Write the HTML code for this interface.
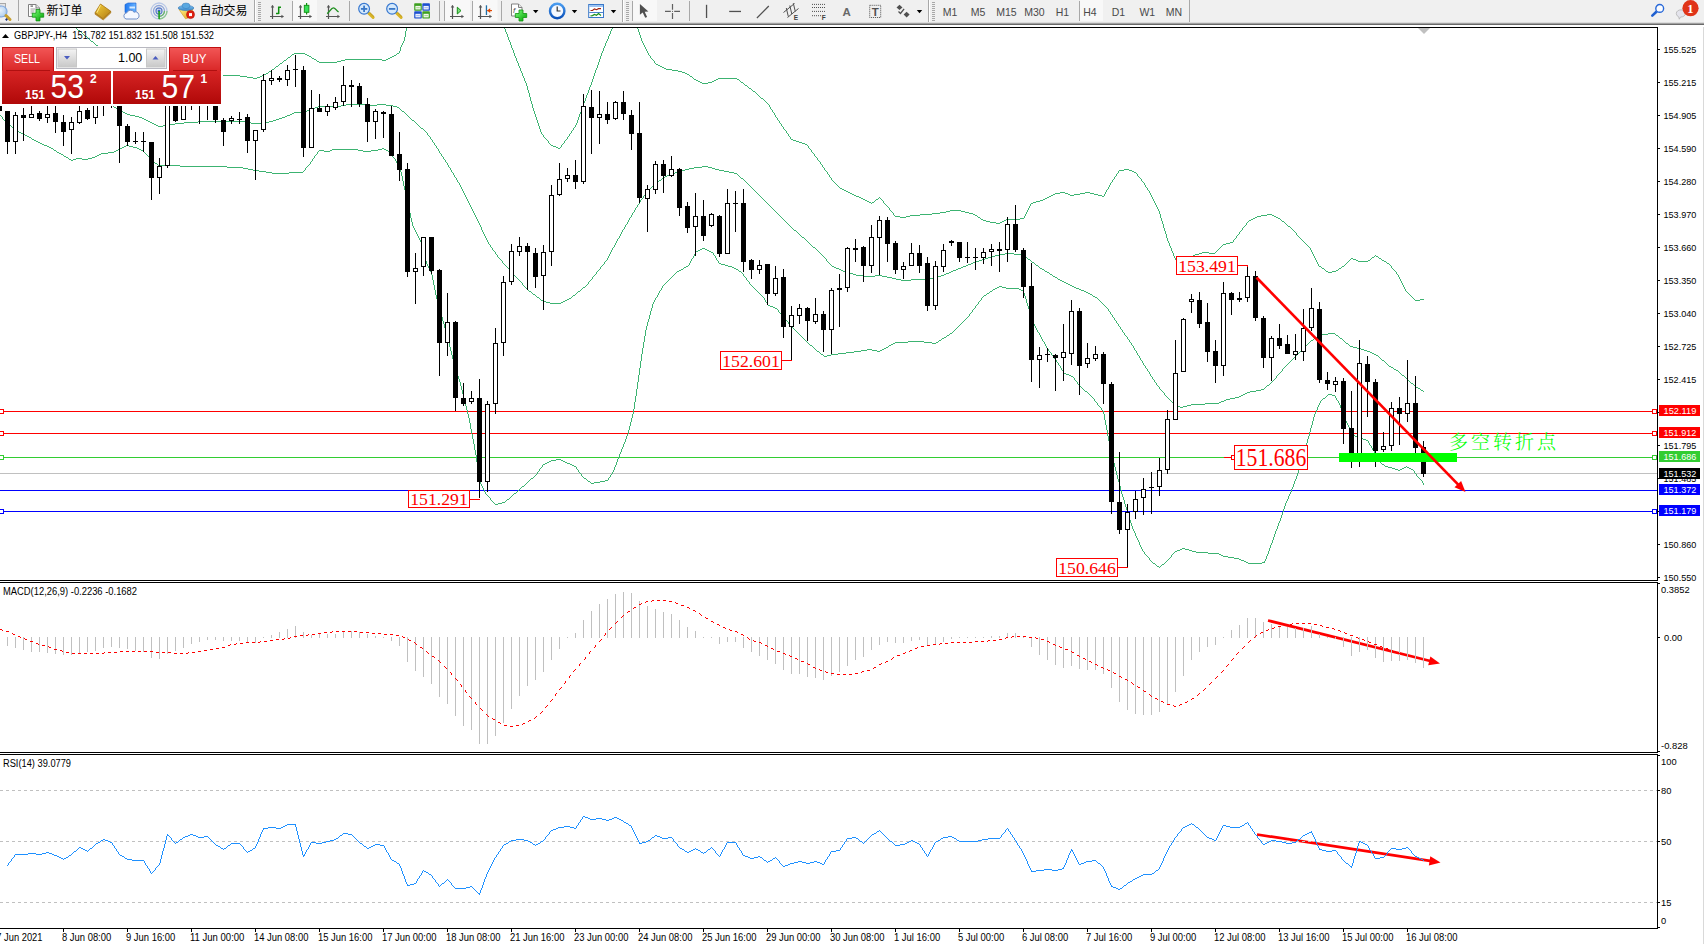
<!DOCTYPE html>
<html><head><meta charset="utf-8"><title>GBPJPY H4</title>
<style>
html,body{margin:0;padding:0;background:#fff}
body{width:1704px;height:944px;overflow:hidden;position:relative}
svg{position:absolute;left:0;top:0;display:block}
svg text{font-family:"Liberation Sans","Noto Sans CJK SC",sans-serif}
</style></head><body>
<svg width="1704" height="944" viewBox="0 0 1704 944">
<rect x="0" y="0" width="1704" height="944" fill="#fff"/>
<g shape-rendering="crispEdges">
<clipPath id="cm"><rect x="0" y="28" width="1657" height="552"/></clipPath>
<g clip-path="url(#cm)">
<rect x="0" y="411" width="1657" height="1" fill="#ff0000"/>
<rect x="0" y="433" width="1657" height="1" fill="#ff0000"/>
<rect x="0" y="457" width="1657" height="1" fill="#32cd32"/>
<rect x="0" y="473" width="1657" height="1" fill="#c0c0c0"/>
<rect x="0" y="490" width="1657" height="1" fill="#0000ff"/>
<rect x="0" y="511" width="1657" height="1" fill="#0000ff"/>
<path d="M85 36.5h2M181 75.5h8M218 75.5h22M262 75.5h2M146 68.5h3M189 76.5h8M206 76.5h12M240 76.5h7M260 76.5h2M118 59.5h2M314 59.5h2M345 59.5h37M386 59.5h2M165 73.5h8M266 73.5h2M120 60.5h2M284 60.5h2M341 60.5h4M382 60.5h4M139 66.5h3M276 66.5h2M253 78.5h4M122 61.5h4M317 61.5h2M337 61.5h4M115 57.5h2M288 57.5h2M390 57.5h2M126 62.5h3M319 62.5h18M152 70.5h4M197 77.5h9M247 77.5h6M257 77.5h3M156 71.5h3M269 71.5h2M104 50.5h2M173 74.5h8M264 74.5h2M113 56.5h2M309 56.5h2M392 56.5h2M149 69.5h3M272 69.5h2M312 58.5h2M388 58.5h2M136 65.5h3M159 72.5h6M78 30.5h2M91 41.5h2M110 54.5h2M292 54.5h2M305 54.5h2M294 53.5h11M397 53.5h2M307 55.5h2M394 55.5h2M107 52.5h2M129 63.5h3M280 63.5h2M132 64.5h4M99 47.5h2M142 67.5h4M96 45.5h2M101 48.5h2M94.5 43v1M406.5 28v3M405.5 31v6M402.5 43v2M274.5 68v1M98.5 46v1M279.5 64v1M278.5 65v1M283.5 61v1M84.5 35v1M396.5 54v1M404.5 37v4M403.5 41v2M87.5 37v1M95.5 44v1M77.5 29v1M80.5 31v1M282.5 62v1M268.5 72v1M400.5 47v4M287.5 58v1M399.5 51v2M88.5 38v1M81.5 32v1M286.5 59v1M316.5 60v1M401.5 45v2M290.5 56v1M89.5 39v1M291.5 55v1M117.5 58v1M93.5 42v1M271.5 70v1M311.5 57v1M82.5 33v1M90.5 40v1M112.5 55v1M103.5 49v1M106.5 51v1M275.5 67v1M109.5 53v1M83.5 34v1M76.5 28v1" fill="none" stroke="#3cb371" stroke-width="1"/>
<path d="M551 145.5h2M553 146.5h3M556 147.5h2M558 148.5h2M522.5 73v3M546.5 139v1M601.5 53v3M513.5 50v3M584.5 101v2M573.5 128v2M508.5 37v3M605.5 43v3M536.5 117v3M505.5 29v3M519.5 66v2M591.5 82v3M611.5 29v2M592.5 79v3M586.5 95v3M604.5 46v2M610.5 31v3M539.5 126v3M547.5 140v1M595.5 70v3M578.5 117v3M525.5 81v2M596.5 68v2M509.5 40v2M537.5 120v3M543.5 135v2M511.5 45v3M517.5 61v2M582.5 106v3M526.5 83v3M602.5 51v2M530.5 97v4M598.5 62v3M609.5 34v2M532.5 104v4M576.5 123v2M590.5 85v2M608.5 36v3M518.5 63v3M523.5 76v2M529.5 93v4M594.5 73v3M520.5 68v3M577.5 120v3M510.5 42v3M515.5 56v2M538.5 123v3M566.5 139v1M564.5 141v2M506.5 32v2M527.5 86v4M524.5 78v3M607.5 39v2M588.5 90v3M606.5 41v2M531.5 101v3M583.5 103v3M589.5 87v3M560.5 147v1M562.5 144v1M563.5 143v1M565.5 140v1M572.5 130v1M574.5 127v1M580.5 112v2M575.5 125v2M541.5 132v2M561.5 145v2M516.5 58v3M534.5 111v3M571.5 131v2M600.5 56v3M587.5 93v2M514.5 53v3M542.5 134v1M581.5 109v3M567.5 137v2M569.5 134v2M585.5 98v3M599.5 59v3M528.5 90v3M512.5 48v2M535.5 114v3M540.5 129v3M548.5 141v2M593.5 76v3M603.5 48v3M533.5 108v3M507.5 34v3M597.5 65v3M579.5 114v3M612.5 28v1M549.5 143v1M521.5 71v2M550.5 144v1M544.5 137v1M568.5 136v1M570.5 133v1M504.5 28v1M545.5 138v1" fill="none" stroke="#3cb371" stroke-width="1"/>
<path d="M895 216.5h5M906 216.5h4M1257 216.5h4M1274 216.5h2M852 194.5h2M1053 194.5h2M1068 194.5h2M1074 194.5h6M1094 194.5h4M848 192.5h2M1060 192.5h5M1085 192.5h5M856 196.5h3M1049 196.5h2M1102 196.5h2M981 219.5h2M1006 219.5h14M1251 219.5h2M1119 170.5h5M1129 170.5h3M932 213.5h8M969 213.5h4M1199 253.5h3M1209 253.5h6M749 88.5h2M983 220.5h3M1004 220.5h2M1249 220.5h2M1134 172.5h2M700 82.5h2M708 82.5h4M741 82.5h2M1288 226.5h2M718 78.5h19M850 193.5h2M1055 193.5h5M1065 193.5h3M1080 193.5h5M1090 193.5h4M986 221.5h4M1002 221.5h2M1282 221.5h2M1124 169.5h5M946 211.5h4M961 211.5h4M1358 261.5h10M1384 261.5h2M1387 263.5h2M861 198.5h2M1045 198.5h2M844 190.5h2M672 70.5h6M990 222.5h6M1000 222.5h2M910 215.5h10M975 215.5h2M1261 215.5h6M1272 215.5h2M696 80.5h2M714 80.5h2M846 191.5h2M863 199.5h2M876 199.5h2M1043 199.5h2M859 197.5h2M1047 197.5h2M900 217.5h6M978 217.5h2M1255 217.5h2M1276 217.5h2M1336 270.5h2M920 214.5h12M973 214.5h2M1267 214.5h5M950 210.5h11M840 188.5h2M1195 254.5h4M1356 260.5h2M1368 260.5h2M1382 260.5h2M793 140.5h3M702 83.5h6M842 189.5h2M1226 243.5h4M1178 262.5h2M1328 272.5h4M1322 268.5h2M1339 268.5h2M940 212.5h6M965 212.5h4M869 202.5h2M872 202.5h2M1033 202.5h3M796 141.5h3M854 195.5h2M1051 195.5h2M1070 195.5h4M1098 195.5h4M867 201.5h2M1036 201.5h4M996 223.5h4M1351 258.5h2M1379 258.5h2M865 200.5h2M1040 200.5h3M1223 244.5h3M1376 256.5h2M799 142.5h3M1132 171.5h2M1372 257.5h2M802 143.5h3M1230 242.5h3M1202 252.5h7M690 76.5h2M1353 259.5h3M664 68.5h2M1193 255.5h2M658 65.5h2M678 71.5h4M1420 299.5h4M660 66.5h2M1326 271.5h2M1332 271.5h4M662 67.5h2M694 79.5h2M716 79.5h2M737 79.5h2M656 64.5h2M1319 266.5h2M1342 266.5h2M682 72.5h3M1415 300.5h5M666 69.5h6M791 139.5h2M687 74.5h2M761 98.5h2M1020 218.5h4M1253 218.5h2M1278 218.5h2M805 144.5h2M745 85.5h2M1031 203.5h2M698 81.5h2M712 81.5h2M753 91.5h2M685 73.5h2M1108.5 187v2M887.5 206v1M1170.5 246v2M1296.5 233v2M1163.5 224v4M1171.5 248v3M1156.5 205v2M1112.5 180v2M1404.5 287v2M790.5 137v2M1104.5 194v2M1240.5 231v1M1405.5 289v2M1243.5 227v1M786.5 131v2M760.5 97v1M1153.5 199v2M808.5 146v2M879.5 197v1M1150.5 193v2M645.5 47v2M1412.5 297v1M648.5 53v2M880.5 198v1M1394.5 270v1M812.5 152v1M1321.5 267v1M823.5 167v1M640.5 35v3M1311.5 250v2M1386.5 262v1M1160.5 214v4M827.5 172v2M1246.5 223v2M1115.5 176v1M1393.5 269v1M1401.5 281v2M1145.5 185v2M1303.5 241v1M1149.5 191v2M1166.5 234v4M644.5 45v2M1192.5 256v1M1371.5 258v1M822.5 165v2M1310.5 248v2M1239.5 232v2M1169.5 243v3M1118.5 171v2M1295.5 232v1M826.5 171v1M1378.5 257v1M767.5 103v1M775.5 115v2M1284.5 222v1M1162.5 221v3M789.5 136v1M1348.5 261v1M1285.5 223v1M837.5 185v1M1152.5 197v2M1234.5 239v1M647.5 51v2M1400.5 279v2M1408.5 293v1M1184.5 265v1M1318.5 264v2M1148.5 190v1M651.5 58v1M811.5 150v2M692.5 77v1M815.5 156v1M1159.5 211v3M1375.5 255v1M1242.5 228v2M889.5 208v2M1111.5 182v1M1180.5 263v1M639.5 32v3M829.5 175v2M770.5 107v2M830.5 177v1M771.5 109v1M755.5 92v1M774.5 113v2M650.5 56v2M874.5 201v1M1137.5 174v2M1218.5 249v1M756.5 93v1M1407.5 292v1M1107.5 189v1M788.5 134v2M878.5 198v1M1151.5 195v2M646.5 49v2M1396.5 272v2M1144.5 183v2M1317.5 262v2M1165.5 231v3M1173.5 253v3M814.5 154v2M1114.5 177v2M1414.5 299v1M1280.5 219v1M882.5 200v1M1245.5 225v1M888.5 207v1M828.5 174v1M1233.5 240v2M1298.5 236v1M649.5 55v1M1299.5 237v1M1403.5 285v2M1175.5 258v2M1147.5 188v2M1399.5 277v2M1176.5 260v1M643.5 43v2M1305.5 243v1M1222.5 245v1M881.5 199v1M1191.5 257v1M1306.5 244v1M1290.5 227v1M1248.5 221v1M751.5 89v1M1350.5 259v1M1028.5 208v2M1291.5 228v1M752.5 90v1M1117.5 173v1M832.5 180v1M1158.5 209v2M1168.5 241v2M769.5 105v2M777.5 118v2M1136.5 173v1M1402.5 283v2M1287.5 225v1M1395.5 271v1M813.5 153v1M642.5 41v2M653.5 60v1M817.5 158v2M1236.5 236v2M831.5 178v2M772.5 110v2M638.5 29v3M891.5 211v1M1186.5 263v1M1217.5 250v1M773.5 112v1M1167.5 238v3M776.5 117v1M1183.5 266v1M757.5 94v1M1286.5 224v1M838.5 186v1M1027.5 210v2M1398.5 275v2M747.5 86v1M1161.5 218v3M758.5 95v1M1409.5 294v1M1174.5 256v2M839.5 187v1M883.5 201v2M693.5 78v1M641.5 38v3M1164.5 228v3M884.5 203v1M1220.5 247v1M1189.5 259v1M890.5 210v1M1181.5 264v1M768.5 104v1M779.5 121v2M1182.5 265v1M780.5 123v1M1341.5 267v1M1300.5 238v1M783.5 127v2M1345.5 264v1M652.5 59v1M1139.5 177v1M1116.5 174v2M1397.5 274v1M1315.5 258v2M816.5 157v1M1244.5 226v1M1281.5 220v1M820.5 162v2M1308.5 246v1M1157.5 207v2M1293.5 230v1M1138.5 176v1M637.5 28v1M689.5 75v1M1215.5 252v1M1247.5 222v1M1177.5 261v1M1188.5 260v2M1314.5 256v2M1292.5 229v1M1307.5 245v1M1026.5 212v2M778.5 120v1M893.5 213v2M764.5 100v1M833.5 181v1M782.5 126v1M894.5 215v1M980.5 218v1M834.5 182v1M1110.5 183v2M654.5 61v2M1141.5 179v2M1390.5 265v1M655.5 63v1M871.5 203v1M1235.5 238v1M1238.5 234v1M1030.5 204v2M763.5 99v1M1219.5 248v1M1106.5 190v2M1185.5 264v1M886.5 205v1M1347.5 262v1M819.5 161v1M781.5 124v2M892.5 212v1M1389.5 264v1M1325.5 270v1M1155.5 203v2M1316.5 260v2M1241.5 230v1M748.5 87v1M875.5 200v1M1313.5 254v2M807.5 145v1M1025.5 214v2M818.5 160v1M1172.5 251v2M1411.5 296v1M885.5 204v1M977.5 216v1M1324.5 269v1M744.5 84v1M1344.5 265v1M1370.5 259v1M1381.5 259v1M1113.5 179v1M759.5 96v1M1410.5 295v1M1392.5 268v1M1302.5 240v1M1374.5 256v1M1312.5 252v2M1109.5 185v2M821.5 164v1M1309.5 247v1M743.5 83v1M1154.5 201v2M1301.5 239v1M1029.5 206v2M784.5 129v1M1105.5 192v2M785.5 130v1M1140.5 178v1M1187.5 262v1M836.5 184v1M1338.5 269v1M740.5 81v1M824.5 168v2M765.5 101v1M1294.5 231v1M825.5 170v1M766.5 102v1M1221.5 246v1M1024.5 216v2M1391.5 266v2M1237.5 235v1M1406.5 291v1M1349.5 260v1M809.5 148v1M739.5 80v1M1143.5 182v1M1346.5 263v1M810.5 149v1M1413.5 298v1M835.5 183v1M1297.5 235v1M1190.5 258v1M787.5 133v1M1142.5 181v1M1146.5 187v1M1216.5 251v1M1304.5 242v1" fill="none" stroke="#3cb371" stroke-width="1"/>
<path d="M841 270.5h2M953 270.5h3M130 115.5h5M287 115.5h3M971 263.5h2M123 112.5h2M294 112.5h11M682 170.5h3M719 170.5h5M702 166.5h6M667 175.5h3M1072 286.5h2M988 257.5h3M1025 257.5h2M1350 346.5h3M1372 353.5h2M1174 404.5h2M1191 404.5h14M103 98.5h2M1000 254.5h5M1014 254.5h7M125 113.5h2M292 113.5h2M16 74.5h10M152 123.5h2M175 123.5h9M251 123.5h12M529 291.5h2M578 291.5h2M1084 291.5h2M1178 406.5h2M1183 406.5h4M156 125.5h2M163 125.5h6M1086 292.5h2M846 272.5h3M949 272.5h2M1047 272.5h2M1226 399.5h4M856 275.5h8M875 275.5h7M941 275.5h3M849 273.5h4M946 273.5h3M150 122.5h2M184 122.5h14M246 122.5h5M263 122.5h6M1256 390.5h5M1421 390.5h2M887 277.5h5M934 277.5h4M1055 277.5h2M119 110.5h2M307 110.5h2M1364 350.5h3M813 247.5h2M1205 403.5h14M583 287.5h2M1074 287.5h2M1066 283.5h2M896 279.5h5M911 279.5h14M1058 279.5h2M802 237.5h2M694 167.5h8M708 167.5h4M98 94.5h2M346 104.5h23M377 104.5h9M968 264.5h3M1396 370.5h2M1076 288.5h3M966 265.5h2M1036 265.5h2M543 301.5h3M563 301.5h2M139 117.5h3M282 117.5h3M537 297.5h2M1095 297.5h2M1221 401.5h3M673 173.5h2M734 173.5h3M1416 387.5h2M1093 296.5h2M1374 354.5h2M653 185.5h2M142 118.5h2M279 118.5h3M1005 253.5h9M836 268.5h3M958 268.5h3M1040 268.5h2M146 120.5h2M273 120.5h3M412 120.5h2M864 276.5h11M882 276.5h5M938 276.5h3M1053 276.5h2M1267 385.5h2M991 256.5h4M1023 256.5h2M1235 397.5h4M982 259.5h3M1028 259.5h2M94 91.5h2M1224 400.5h2M901 280.5h10M1060 280.5h2M1088 293.5h2M853 274.5h3M944 274.5h2M1050 274.5h2M533 294.5h2M1090 294.5h2M1411 383.5h2M892 278.5h4M925 278.5h9M1219 402.5h2M675 172.5h3M729 172.5h5M36 76.5h8M839 269.5h2M956 269.5h2M1042 269.5h2M148 121.5h2M198 121.5h48M269 121.5h4M832 266.5h2M963 266.5h3M114 107.5h2M315 107.5h3M397 107.5h2M689 168.5h5M712 168.5h3M976 261.5h3M1081 290.5h3M567 299.5h2M1245 393.5h2M0 72.5h6M678 171.5h4M724 171.5h5M1243 394.5h2M550 303.5h11M541 300.5h2M565 300.5h2M158 126.5h5M6 73.5h10M973 262.5h3M1032 262.5h2M1353 347.5h4M318 106.5h23M393 106.5h4M135 116.5h4M285 116.5h2M58 79.5h7M1176 405.5h2M1187 405.5h4M1318 335.5h2M1336 335.5h2M1230 398.5h5M87 86.5h2M26 75.5h10M995 255.5h5M1021 255.5h2M79 82.5h4M65 80.5h7M843 271.5h3M951 271.5h2M1045 271.5h2M127 114.5h3M290 114.5h2M670 174.5h3M83 83.5h2M659 180.5h2M1370 352.5h2M1389 366.5h2M116 108.5h2M311 108.5h4M51 78.5h7M1361 349.5h3M1314 338.5h2M1340 338.5h2M109 103.5h2M665 176.5h2M1320 334.5h8M546 302.5h4M561 302.5h2M663 177.5h2M1376 355.5h2M1382 360.5h2M1311 340.5h2M794 230.5h2M1357 348.5h4M985 258.5h3M979 260.5h3M1079 289.5h2M569 298.5h2M341 105.5h5M369 105.5h8M386 105.5h7M685 169.5h4M715 169.5h4M1062 281.5h2M1418 388.5h2M1250 391.5h6M1261 389.5h3M1180 407.5h3M1328 333.5h7M90 88.5h2M72 81.5h7M121 111.5h2M305 111.5h2M402 111.5h2M834 267.5h2M961 267.5h2M1346 343.5h2M154 124.5h2M169 124.5h6M309 109.5h2M1239 396.5h2M1402 375.5h2M44 77.5h7M1070 285.5h2M1064 282.5h2M741 178.5h2M1391 367.5h2M573 295.5h2M1367 351.5h3M144 119.5h2M276 119.5h3M1241 395.5h2M1247 392.5h3M1068 284.5h2M1394 369.5h2M421 128.5h2M1044.5 270v1M612.5 248v2M461.5 187v2M581.5 289v1M824.5 257v1M604.5 262v2M451.5 170v2M414.5 121v1M1112.5 315v2M1281.5 371v1M454.5 175v2M628.5 220v2M585.5 286v1M1399.5 372v1M825.5 258v1M769.5 205v1M447.5 163v2M620.5 234v2M1305.5 346v1M1129.5 340v2M1137.5 353v2M1145.5 366v2M476.5 217v2M1380.5 358v1M1276.5 376v2M1296.5 355v1M85.5 84v1M743.5 179v1M1162.5 391v1M410.5 118v1M469.5 203v2M624.5 227v2M776.5 212v1M490.5 245v2M1163.5 392v1M531.5 292v1M616.5 241v2M1266.5 386v1M596.5 272v2M411.5 119v1M806.5 240v1M501.5 260v1M1293.5 358v1M483.5 232v2M1169.5 399v1M1398.5 371v1M494.5 251v1M1284.5 367v1M750.5 186v1M428.5 135v1M1111.5 314v1M1140.5 358v2M644.5 195v1M588.5 282v2M1143.5 363v2M429.5 136v1M783.5 219v1M450.5 168v2M639.5 202v2M1115.5 320v1M615.5 243v2M1136.5 351v2M1144.5 365v1M1152.5 377v2M784.5 220v1M527.5 289v1M1133.5 346v2M1316.5 337v1M472.5 209v2M757.5 193v1M475.5 215v2M652.5 186v1M512.5 273v1M1097.5 298v1M619.5 236v2M1273.5 380v1M635.5 208v2M611.5 250v2M486.5 238v2M647.5 192v1M1342.5 339v1M791.5 227v1M627.5 222v2M1092.5 295v1M399.5 108v1M1300.5 351v1M519.5 280v1M1104.5 305v1M738.5 175v1M432.5 140v2M765.5 201v1M1110.5 312v2M504.5 264v1M1118.5 324v2M631.5 215v2M1147.5 369v2M607.5 258v2M739.5 176v1M1264.5 388v1M436.5 146v2M526.5 288v1M1170.5 400v1M505.5 265v1M1132.5 345v1M801.5 236v1M1151.5 376v1M1288.5 363v1M623.5 229v1M790.5 226v1M471.5 207v2M1303.5 348v1M511.5 271v2M1405.5 377v1M572.5 296v1M485.5 236v2M493.5 250v1M482.5 230v2M587.5 284v1M576.5 293v1M468.5 201v2M1420.5 389v1M518.5 279v1M1103.5 304v1M497.5 255v2M820.5 253v1M764.5 200v1M1150.5 374v2M1291.5 360v1M431.5 139v1M826.5 259v2M1114.5 318v2M1117.5 323v1M1146.5 368v1M1154.5 380v2M416.5 123v1M827.5 261v1M595.5 274v1M435.5 145v1M1139.5 356v2M634.5 210v2M417.5 124v1M406.5 114v1M1310.5 341v1M590.5 280v1M638.5 204v1M492.5 248v2M1165.5 395v1M532.5 293v1M1386.5 363v1M481.5 227v3M1280.5 372v1M819.5 252v1M1283.5 368v1M1307.5 344v1M808.5 242v1M430.5 137v2M1120.5 327v2M1298.5 353v1M1400.5 373v1M598.5 270v1M658.5 181v1M1275.5 378v1M439.5 151v2M1172.5 402v1M1121.5 329v1M1401.5 374v1M771.5 207v1M1142.5 361v2M404.5 112v1M1027.5 258v1M1164.5 393v2M405.5 113v1M1295.5 356v1M610.5 252v2M745.5 181v1M1286.5 365v1M495.5 252v2M1099.5 300v1M646.5 193v1M778.5 214v1M467.5 199v2M496.5 254v1M614.5 245v2M1171.5 401v1M606.5 260v1M423.5 129v1M641.5 199v1M101.5 96v1M796.5 231v1M434.5 143v2M630.5 217v1M1116.5 321v2M522.5 283v2M662.5 178v1M1149.5 372v2M1348.5 344v1M797.5 232v1M601.5 266v1M438.5 149v2M1278.5 374v1M105.5 99v1M506.5 266v1M1381.5 359v1M1124.5 333v2M1153.5 379v1M86.5 85v1M528.5 290v1M637.5 205v2M1302.5 349v1M593.5 276v1M582.5 288v1M626.5 224v1M649.5 189v1M470.5 205v2M513.5 274v1M1098.5 299v1M777.5 213v1M815.5 248v1M514.5 275v1M484.5 234v2M466.5 197v2M751.5 187v1M400.5 109v1M1290.5 361v1M740.5 177v1M520.5 281v1M752.5 188v1M499.5 258v1M401.5 110v1M433.5 142v1M441.5 154v2M521.5 282v1M785.5 221v1M1148.5 371v1M1156.5 383v2M828.5 262v1M758.5 194v1M656.5 183v1M1157.5 385v1M829.5 263v1M1038.5 266v1M1309.5 342v1M759.5 195v1M419.5 126v1M1406.5 378v1M97.5 93v1M1343.5 340v1M792.5 228v1M498.5 257v1M100.5 95v1M1270.5 383v1M111.5 104v1M1407.5 379v1M1344.5 341v1M1105.5 306v1M1167.5 397v1M463.5 191v2M766.5 202v1M1388.5 365v1M112.5 105v1M1297.5 354v1M609.5 254v2M1119.5 326v1M821.5 254v1M1122.5 330v2M633.5 212v1M437.5 148v1M480.5 225v2M440.5 153v1M448.5 165v2M592.5 277v2M648.5 190v2M1123.5 332v1M477.5 219v2M1155.5 382v1M1313.5 339v1M1282.5 369v2M640.5 200v2M1166.5 396v1M407.5 115v1M465.5 195v2M580.5 290v1M600.5 267v2M603.5 264v1M1387.5 364v1M1304.5 347v1M462.5 189v2M809.5 243v1M523.5 285v1M1108.5 309v2M1338.5 336v1M444.5 159v1M810.5 244v1M106.5 100v1M524.5 286v1M1339.5 337v1M418.5 125v1M772.5 208v1M1285.5 366v1M1413.5 384v1M799.5 234v1M1159.5 387v2M96.5 92v1M107.5 101v1M773.5 209v1M746.5 182v1M747.5 183v1M779.5 215v1M516.5 277v1M780.5 216v1M1277.5 375v1M1052.5 275v1M753.5 189v1M479.5 223v2M1173.5 403v1M651.5 187v1M443.5 157v2M1125.5 335v1M636.5 207v1M754.5 190v1M786.5 222v1M92.5 89v1M1349.5 345v1M798.5 233v1M1272.5 381v1M1126.5 336v1M1292.5 359v1M787.5 223v1M643.5 196v2M1158.5 386v1M1265.5 387v1M1100.5 301v1M515.5 276v1M761.5 197v1M464.5 193v2M424.5 130v1M622.5 230v2M102.5 97v1M1409.5 381v1M425.5 131v1M457.5 180v2M655.5 184v1M478.5 221v2M507.5 267v1M442.5 156v1M571.5 297v1M508.5 268v1M618.5 238v1M575.5 294v1M1039.5 267v1M816.5 249v1M760.5 196v1M1408.5 380v1M831.5 265v1M599.5 269v1M793.5 229v1M1287.5 364v1M1345.5 342v1M1106.5 307v1M805.5 239v1M591.5 279v1M500.5 259v1M594.5 275v1M113.5 106v1M767.5 203v1M445.5 160v2M453.5 173v2M1107.5 308v1M768.5 204v1M446.5 162v1M586.5 285v1M449.5 167v1M830.5 264v1M1423.5 391v1M1379.5 357v1M812.5 246v1M1299.5 352v1M1393.5 368v1M420.5 127v1M774.5 210v1M629.5 218v2M1279.5 373v1M540.5 299v1M804.5 238v1M775.5 211v1M1168.5 398v1M409.5 117v1M749.5 185v1M427.5 133v2M822.5 255v1M625.5 225v2M456.5 178v2M1034.5 263v1M460.5 185v2M811.5 245v1M823.5 256v1M782.5 218v1M452.5 172v1M1035.5 264v1M1127.5 337v2M1378.5 356v1M1271.5 382v1M642.5 198v1M1128.5 339v1M589.5 281v1M525.5 287v1M474.5 213v2M1317.5 336v1M621.5 232v2M1306.5 345v1M1160.5 389v1M800.5 235v1M539.5 298v1M613.5 247v1M408.5 116v1M108.5 102v1M602.5 265v1M1161.5 390v1M488.5 242v2M657.5 182v1M1404.5 376v1M489.5 244v1M661.5 179v1M748.5 184v1M650.5 188v1M617.5 239v2M597.5 271v1M502.5 261v2M1274.5 379v1M1294.5 357v1M737.5 174v1M577.5 292v1M781.5 217v1M1109.5 311v1M503.5 263v1M93.5 90v1M459.5 183v2M645.5 194v1M1131.5 343v2M536.5 296v1M1414.5 385v1M1113.5 317v1M1134.5 348v2M755.5 191v1M1415.5 386v1M605.5 261v1M1135.5 350v1M608.5 256v2M756.5 192v1M473.5 211v2M788.5 224v1M1057.5 278v1M632.5 213v2M789.5 225v1M1101.5 302v1M487.5 240v2M1030.5 260v1M1049.5 273v1M762.5 198v1M517.5 278v1M1102.5 303v1M1031.5 261v1M1335.5 334v1M89.5 87v1M763.5 199v1M1385.5 362v1M1301.5 350v1M426.5 132v1M455.5 177v1M807.5 241v1M535.5 295v1M415.5 122v1M1130.5 342v1M1138.5 355v1M1141.5 360v1M770.5 206v1M509.5 269v1M118.5 109v1M1269.5 384v1M1289.5 362v1M1384.5 361v1M510.5 270v1M744.5 180v1M817.5 250v1M491.5 247v1M818.5 251v1M1410.5 382v1M1308.5 343v1M458.5 182v1" fill="none" stroke="#3cb371" stroke-width="1"/>
<path d="M272 173.5h17M588 481.5h2M600 481.5h5M97 155.5h2M1244 561.5h2M867 349.5h5M882 349.5h2M69 159.5h2M73 159.5h3M82 159.5h6M1153 563.5h2M1248 563.5h14M549 461.5h2M563 461.5h2M725 265.5h3M1395 469.5h3M1400 469.5h2M1411 469.5h2M810 345.5h2M889 345.5h2M821 354.5h2M831 354.5h7M1228 557.5h6M543 464.5h2M570 464.5h2M1382 464.5h2M679 270.5h2M66 157.5h2M92 157.5h3M950 333.5h2M180 166.5h47M700 249.5h2M705 249.5h2M158 165.5h22M114 151.5h2M324 151.5h6M363 151.5h8M775 308.5h2M248 169.5h5M59 153.5h2M101 153.5h7M44 145.5h3M126 145.5h3M773 307.5h2M1360 438.5h3M895 342.5h13M924 342.5h8M936 342.5h2M259 171.5h7M817 351.5h2M854 351.5h7M877 351.5h3M893 343.5h2M932 343.5h4M266 172.5h6M289 172.5h14M768 305.5h2M545 463.5h2M567 463.5h3M498 503.5h4M1241 560.5h3M76 158.5h6M88 158.5h4M531 478.5h2M584 478.5h2M993 289.5h2M1019 289.5h2M1208 553.5h11M47 146.5h2M124 146.5h2M129 146.5h4M1392 468.5h3M1402 468.5h2M1409 468.5h2M32 139.5h2M25 135.5h2M57 152.5h2M108 152.5h6M522 486.5h2M51 148.5h2M120 148.5h2M137 148.5h2M382 148.5h2M1363 439.5h3M686 266.5h2M728 266.5h4M54 150.5h2M116 150.5h2M141 150.5h2M319 150.5h5M330 150.5h2M358 150.5h5M371 150.5h7M386 150.5h2M719 263.5h2M1069 375.5h2M551 460.5h5M561 460.5h2M155 163.5h2M1234 558.5h5M1085 391.5h2M846 352.5h8M243 168.5h5M884 348.5h2M118 149.5h2M139 149.5h2M332 149.5h26M378 149.5h4M384 149.5h2M997 287.5h2M1002 287.5h4M1066 374.5h3M1219 554.5h2M942 338.5h2M64 156.5h2M95 156.5h2M1332 395.5h3M49 147.5h2M122 147.5h2M133 147.5h4M71 160.5h2M947 335.5h2M1328 394.5h4M1196 552.5h12M61 154.5h2M99 154.5h2M1388 467.5h4M1404 467.5h2M1407 467.5h2M227 167.5h16M995 288.5h2M1006 288.5h13M984 295.5h2M1358 437.5h2M827 355.5h4M594 482.5h6M36 141.5h2M38 142.5h2M29 137.5h2M770 306.5h3M1246 562.5h2M1262 562.5h3M23 134.5h2M1355 436.5h3M944 337.5h2M681 269.5h2M736 269.5h2M514 493.5h2M1175 551.5h2M1192 551.5h4M574 466.5h2M1385 466.5h3M698 250.5h2M707 250.5h2M990 291.5h2M908 341.5h16M556 459.5h5M1157 566.5h2M721 264.5h4M886 347.5h2M1180 549.5h2M1185 549.5h4M572 465.5h2M824 356.5h3M1223 556.5h5M605 480.5h3M507 499.5h2M861 350.5h6M872 350.5h5M880 350.5h2M838 353.5h8M547 462.5h2M565 462.5h2M42 144.5h2M34 140.5h2M711 252.5h2M999 286.5h3M891 344.5h2M16 130.5h2M591 483.5h3M1021 290.5h2M1398 470.5h2M1221 555.5h2M253 170.5h6M12 127.5h2M1071 376.5h2M1353 435.5h2M1064 373.5h2M495 504.5h3M40 143.5h2M7 123.5h2M1177 550.5h3M1189 550.5h3M27 136.5h2M21 133.5h2M987 293.5h2M677 271.5h2M739 271.5h2M696 251.5h2M709 251.5h2M1323 398.5h2M734 268.5h2M684 267.5h2M732 267.5h2M1182 548.5h3M19 132.5h2M1366 440.5h2M939 340.5h2M502 502.5h3M702 248.5h3M1162 564.5h2M1239 559.5h2M1294.5 481v3M1272.5 540v3M408.5 204v5M453.5 359v3M391.5 154v2M1322.5 399v1M1139.5 542v3M1119.5 482v4M634.5 402v7M586.5 479v1M1301.5 460v3M432.5 275v5M1377.5 456v2M443.5 321v3M766.5 302v1M718.5 261v2M1380.5 461v2M1318.5 405v2M477.5 462v10M1101.5 408v2M470.5 423v6M446.5 332v4M647.5 322v4M404.5 186v4M621.5 449v3M1104.5 414v6M143.5 151v1M974.5 308v1M629.5 426v4M1284.5 506v3M1414.5 471v2M473.5 439v5M439.5 306v4M1415.5 473v1M1045.5 344v2M517.5 491v1M652.5 304v4M750.5 284v1M1271.5 543v2M1110.5 445v5M1292.5 487v2M400.5 169v3M1049.5 351v1M751.5 285v1M1060.5 366v2M783.5 317v1M643.5 342v6M401.5 172v4M1063.5 371v2M1027.5 303v3M1300.5 463v4M784.5 318v1M1124.5 500v4M411.5 218v4M637.5 382v7M1150.5 560v1M1317.5 407v3M1031.5 315v3M472.5 434v5M1128.5 513v3M318.5 151v1M150.5 158v1M608.5 478v2M421.5 242v2M620.5 452v2M1336.5 398v2M1275.5 531v3M482.5 486v2M1037.5 330v2M1131.5 523v3M424.5 252v4M1107.5 430v6M1117.5 475v4M389.5 152v1M407.5 199v5M1038.5 332v1M628.5 430v4M1343.5 413v3M1120.5 486v4M468.5 414v4M309.5 164v1M1138.5 540v2M1291.5 489v3M651.5 308v3M650.5 311v4M716.5 258v2M638.5 375v7M1103.5 411v3M632.5 414v4M1316.5 410v2M1113.5 459v4M403.5 181v5M1266.5 556v3M636.5 389v7M641.5 354v7M157.5 164v1M1274.5 534v3M462.5 390v4M646.5 326v4M1416.5 474v2M645.5 330v6M312.5 159v2M1303.5 453v3M1047.5 348v1M2.5 117v2M1048.5 349v2M454.5 362v4M1051.5 353v2M1023.5 291v2M1109.5 441v4M399.5 167v2M1290.5 492v2M412.5 222v4M753.5 287v1M457.5 372v4M1026.5 299v4M649.5 315v4M433.5 280v5M661.5 288v2M786.5 320v1M1095.5 401v1M471.5 429v5M447.5 336v4M419.5 238v2M657.5 295v2M152.5 160v1M420.5 240v2M1036.5 328v2M484.5 490v2M450.5 347v4M1039.5 333v2M1338.5 401v2M1040.5 335v2M488.5 496v1M1116.5 471v4M640.5 361v7M406.5 195v4M1311.5 425v3M1302.5 456v4M537.5 472v2M395.5 159v2M440.5 310v4M614.5 467v3M760.5 294v1M510.5 497v1M778.5 310v2M1352.5 433v2M960.5 324v1M402.5 176v5M823.5 355v1M1173.5 553v1M1112.5 454v5M480.5 481v3M53.5 149v1M1306.5 443v3M1297.5 473v3M436.5 295v4M1129.5 516v4M972.5 310v2M0.5 115v1M635.5 396v6M1418.5 477v1M1165.5 562v1M1419.5 478v1M1108.5 436v5M967.5 317v1M1053.5 356v2M1321.5 400v1M644.5 336v6M429.5 268v2M1075.5 380v1M456.5 369v3M613.5 470v2M788.5 322v2M1097.5 403v2M1076.5 381v1M1268.5 551v3M978.5 302v2M418.5 236v2M1105.5 420v5M1305.5 446v4M393.5 157v1M490.5 498v2M691.5 259v2M617.5 459v3M466.5 406v4M397.5 163v2M476.5 455v7M516.5 492v1M1369.5 443v2M1156.5 565v1M1350.5 429v2M1370.5 445v1M1373.5 450v1M1111.5 450v4M762.5 296v1M1351.5 431v2M813.5 347v1M414.5 228v2M459.5 379v3M317.5 152v2M479.5 478v3M1313.5 417v4M1134.5 531v2M520.5 488v1M1283.5 509v3M425.5 256v5M666.5 282v1M1421.5 480v1M946.5 336v1M427.5 264v2M577.5 469v1M1077.5 382v2M1123.5 497v3M1141.5 547v2M1152.5 562v1M1078.5 384v1M305.5 168v2M469.5 418v5M624.5 442v2M1099.5 406v1M1379.5 459v2M820.5 353v1M1308.5 436v3M1100.5 407v1M542.5 465v2M492.5 501v1M655.5 298v2M9.5 124v1M670.5 278v1M539.5 469v2M465.5 402v4M1320.5 401v2M749.5 282v2M1371.5 446v2M764.5 298v2M782.5 316v1M1062.5 370v1M815.5 349v1M413.5 226v2M458.5 376v3M623.5 444v3M1307.5 439v4M1032.5 318v3M434.5 285v5M816.5 350v1M977.5 304v1M630.5 422v4M1286.5 501v2M148.5 156v1M952.5 332v1M423.5 247v5M1106.5 425v5M4.5 120v1M451.5 351v4M1423.5 483v2M1166.5 561v1M576.5 467v2M1345.5 419v2M755.5 289v1M983.5 296v1M1140.5 545v2M580.5 473v1M756.5 290v1M1079.5 385v1M1319.5 403v2M1080.5 386v1M1381.5 463v1M959.5 325v1M1102.5 410v1M622.5 447v2M609.5 477v1M648.5 319v3M1277.5 526v3M506.5 500v1M956.5 328v1M971.5 312v1M494.5 503v1M1326.5 396v1M11.5 126v1M639.5 368v7M1293.5 484v3M513.5 494v1M1310.5 428v4M963.5 321v1M1028.5 306v3M1125.5 504v3M1276.5 529v2M422.5 244v3M989.5 292v1M1340.5 405v3M486.5 494v1M1337.5 400v1M1042.5 339v2M1344.5 416v3M757.5 291v1M758.5 292v1M306.5 167v1M659.5 291v2M1267.5 554v2M528.5 481v1M1034.5 324v2M1417.5 476v1M616.5 462v3M535.5 475v1M455.5 366v3M410.5 213v5M1159.5 567v1M431.5 272v3M1074.5 378v2M658.5 293v2M888.5 346v1M1287.5 499v2M953.5 331v1M1339.5 403v2M654.5 300v2M1044.5 342v2M392.5 156v1M396.5 161v2M965.5 319v1M1270.5 545v3M793.5 328v1M981.5 298v2M794.5 329v1M976.5 305v1M416.5 232v2M692.5 258v1M1033.5 321v3M474.5 444v6M1136.5 536v2M653.5 302v2M1133.5 529v2M1.5 116v1M1050.5 352v1M688.5 265v1M752.5 286v1M1054.5 358v1M785.5 319v1M1269.5 548v3M631.5 418v4M975.5 306v2M1115.5 467v4M405.5 190v5M521.5 487v1M18.5 131v1M491.5 500v1M394.5 158v1M664.5 284v1M626.5 436v3M1082.5 388v1M795.5 330v1M1384.5 465v1M460.5 382v4M415.5 230v2M449.5 343v4M671.5 277v1M1135.5 533v3M3.5 119v1M14.5 128v1M743.5 274v2M1052.5 355v1M1056.5 360v2M578.5 470v2M754.5 288v1M1121.5 490v4M442.5 317v4M536.5 474v1M1347.5 423v2M1089.5 394v1M1142.5 549v2M787.5 321v1M1280.5 518v3M642.5 348v6M802.5 337v1M445.5 328v4M1114.5 463v4M675.5 273v1M489.5 497v1M1296.5 476v3M738.5 270v1M10.5 125v1M1164.5 563v1M1084.5 390v1M1372.5 448v2M713.5 253v2M478.5 472v6M448.5 340v3M1327.5 395v1M1171.5 555v2M31.5 138v1M1420.5 479v1M969.5 314v2M5.5 121v1M6.5 122v1M964.5 320v1M1143.5 551v1M1349.5 427v2M1058.5 363v2M1144.5 552v2M1346.5 421v2M789.5 324v1M980.5 300v1M1091.5 396v1M444.5 324v4M1299.5 467v3M1174.5 552v1M1169.5 558v1M437.5 299v4M426.5 261v3M968.5 316v1M1282.5 512v3M1025.5 296v3M1374.5 451v2M587.5 480v1M763.5 297v1M1122.5 494v3M715.5 256v2M529.5 480v1M526.5 483v1M144.5 152v1M1341.5 408v3M1118.5 479v3M541.5 467v1M1422.5 481v2M1273.5 537v3M1043.5 341v1M1046.5 346v2M663.5 285v1M467.5 410v4M582.5 476v1M1309.5 432v4M791.5 326v1M792.5 327v1M435.5 290v5M463.5 394v4M493.5 502v1M1035.5 326v2M483.5 488v2M1304.5 450v3M452.5 355v4M667.5 281v1M1024.5 293v3M633.5 409v5M798.5 333v1M958.5 326v1M674.5 274v1M949.5 334v1M438.5 303v3M1041.5 337v2M475.5 450v5M1312.5 421v4M970.5 313v1M441.5 314v3M581.5 474v2M615.5 465v2M1148.5 557v1M1081.5 387v1M1278.5 523v3M512.5 495v1M1030.5 312v3M417.5 234v2M1335.5 396v2M973.5 309v1M481.5 484v2M1170.5 557v1M1130.5 520v3M619.5 454v3M741.5 272v1M1342.5 411v2M742.5 273v1M1087.5 392v1M800.5 335v1M1088.5 393v1M801.5 336v1M610.5 475v2M1315.5 412v2M464.5 398v4M618.5 457v2M311.5 161v1M398.5 165v2M759.5 293v1M1094.5 399v2M534.5 476v1M1083.5 389v1M1289.5 494v2M1098.5 405v1M676.5 272v1M1029.5 309v3M525.5 484v1M1314.5 414v3M314.5 156v2M540.5 468v1M310.5 162v2M777.5 309v1M625.5 439v3M590.5 482v1M814.5 348v1M1288.5 496v3M803.5 338v1M146.5 154v1M505.5 501v1M695.5 252v2M428.5 266v2M761.5 295v1M1160.5 566v1M1376.5 455v1M765.5 300v2M1279.5 521v2M809.5 344v1M683.5 268v1M612.5 472v2M1127.5 510v3M957.5 327v1M694.5 254v2M954.5 330v1M1295.5 479v2M690.5 261v2M746.5 278v2M1055.5 359v1M1368.5 441v2M1059.5 365v1M511.5 496v1M790.5 325v1M461.5 386v4M149.5 157v1M316.5 154v1M693.5 256v2M485.5 492v2M518.5 490v1M388.5 151v1M409.5 209v4M689.5 263v2M1137.5 538v2M796.5 331v1M1378.5 458v1M767.5 303v2M797.5 332v1M662.5 286v2M304.5 170v1M1126.5 507v3M1298.5 470v3M68.5 158v1M668.5 280v1M15.5 129v1M748.5 281v1M1057.5 362v1M579.5 472v1M538.5 471v1M1281.5 515v3M1348.5 425v2M781.5 314v2M1090.5 395v1M1061.5 368v2M1146.5 555v1M533.5 477v1M1147.5 556v1M63.5 155v1M56.5 151v1M1285.5 503v3M151.5 159v1M672.5 276v1M1132.5 526v3M487.5 495v1M390.5 153v1M714.5 255v1M717.5 260v1M799.5 334v1M979.5 301v1M1413.5 470v1M1168.5 559v1M982.5 297v1M961.5 323v1M1092.5 397v1M1149.5 558v2M805.5 340v1M1093.5 398v1M611.5 474v1M806.5 341v1M519.5 489v1M941.5 339v1M1155.5 564v1M812.5 346v1M145.5 153v1M315.5 155v1M992.5 290v1M669.5 279v1M627.5 434v2M583.5 477v1M430.5 270v2M1073.5 377v1M308.5 165v1M1151.5 561v1M807.5 342v1M530.5 479v1M303.5 171v1M1375.5 453v2M808.5 343v1M1265.5 559v2M673.5 275v1M1161.5 565v1M744.5 276v1M745.5 277v1M955.5 329v1M147.5 155v1M1406.5 466v1M986.5 294v1M1325.5 397v1M1096.5 402v1M962.5 322v1M509.5 498v1M153.5 161v1M1172.5 554v1M154.5 162v1M1167.5 560v1M747.5 280v1M966.5 318v1M779.5 312v1M780.5 313v1M1145.5 554v1M938.5 341v1M527.5 482v1M524.5 485v1M313.5 158v1M819.5 352v1M665.5 283v1M307.5 166v1M660.5 290v1M804.5 339v1M656.5 297v1M1264.5 561v1" fill="none" stroke="#3cb371" stroke-width="1"/>
<rect x="7" y="111" width="1" height="43" fill="#000"/>
<rect x="5" y="111" width="5" height="31" fill="#000"/>
<rect x="15" y="112" width="1" height="42" fill="#000"/>
<rect x="13" y="115" width="5" height="27" fill="#000"/>
<rect x="14" y="116" width="3" height="25" fill="#fff"/>
<rect x="23" y="108" width="1" height="33" fill="#000"/>
<rect x="21" y="115" width="5" height="3" fill="#000"/>
<rect x="31" y="100" width="1" height="18" fill="#000"/>
<rect x="29" y="114" width="5" height="4" fill="#000"/>
<rect x="30" y="115" width="3" height="2" fill="#fff"/>
<rect x="39" y="111" width="1" height="10" fill="#000"/>
<rect x="37" y="113" width="5" height="6" fill="#000"/>
<rect x="47" y="100" width="1" height="23" fill="#000"/>
<rect x="45" y="114" width="5" height="4" fill="#000"/>
<rect x="46" y="115" width="3" height="2" fill="#fff"/>
<rect x="55" y="100" width="1" height="33" fill="#000"/>
<rect x="53" y="113" width="5" height="9" fill="#000"/>
<rect x="63" y="115" width="1" height="31" fill="#000"/>
<rect x="61" y="122" width="5" height="10" fill="#000"/>
<rect x="71" y="117" width="1" height="37" fill="#000"/>
<rect x="69" y="122" width="5" height="8" fill="#000"/>
<rect x="70" y="123" width="3" height="6" fill="#fff"/>
<rect x="79" y="102" width="1" height="22" fill="#000"/>
<rect x="77" y="111" width="5" height="12" fill="#000"/>
<rect x="78" y="112" width="3" height="10" fill="#fff"/>
<rect x="87" y="108" width="1" height="12" fill="#000"/>
<rect x="85" y="110" width="5" height="9" fill="#000"/>
<rect x="95" y="97" width="1" height="27" fill="#000"/>
<rect x="93" y="100" width="5" height="18" fill="#000"/>
<rect x="94" y="101" width="3" height="16" fill="#fff"/>
<rect x="103" y="94" width="1" height="22" fill="#000"/>
<rect x="101" y="97" width="5" height="5" fill="#000"/>
<rect x="102" y="98" width="3" height="3" fill="#fff"/>
<rect x="111" y="94" width="1" height="14" fill="#000"/>
<rect x="109" y="97" width="5" height="5" fill="#000"/>
<rect x="119" y="100" width="1" height="63" fill="#000"/>
<rect x="117" y="102" width="5" height="24" fill="#000"/>
<rect x="127" y="124" width="1" height="22" fill="#000"/>
<rect x="125" y="126" width="5" height="16" fill="#000"/>
<rect x="135" y="132" width="1" height="12" fill="#000"/>
<rect x="133" y="141" width="5" height="1" fill="#000"/>
<rect x="143" y="132" width="1" height="20" fill="#000"/>
<rect x="141" y="141" width="5" height="1" fill="#000"/>
<rect x="151" y="142" width="1" height="58" fill="#000"/>
<rect x="149" y="142" width="5" height="36" fill="#000"/>
<rect x="159" y="158" width="1" height="36" fill="#000"/>
<rect x="157" y="166" width="5" height="12" fill="#000"/>
<rect x="158" y="167" width="3" height="10" fill="#fff"/>
<rect x="167" y="90" width="1" height="78" fill="#000"/>
<rect x="165" y="92" width="5" height="74" fill="#000"/>
<rect x="166" y="93" width="3" height="72" fill="#fff"/>
<rect x="175" y="90" width="1" height="32" fill="#000"/>
<rect x="173" y="92" width="5" height="29" fill="#000"/>
<rect x="183" y="97" width="1" height="23" fill="#000"/>
<rect x="181" y="100" width="5" height="20" fill="#000"/>
<rect x="182" y="101" width="3" height="18" fill="#fff"/>
<rect x="191" y="94" width="1" height="16" fill="#000"/>
<rect x="189" y="97" width="5" height="5" fill="#000"/>
<rect x="190" y="98" width="3" height="3" fill="#fff"/>
<rect x="199" y="94" width="1" height="30" fill="#000"/>
<rect x="197" y="97" width="5" height="5" fill="#000"/>
<rect x="198" y="98" width="3" height="3" fill="#fff"/>
<rect x="207" y="94" width="1" height="26" fill="#000"/>
<rect x="205" y="97" width="5" height="5" fill="#000"/>
<rect x="215" y="100" width="1" height="23" fill="#000"/>
<rect x="213" y="102" width="5" height="18" fill="#000"/>
<rect x="223" y="118" width="1" height="28" fill="#000"/>
<rect x="221" y="120" width="5" height="12" fill="#000"/>
<rect x="231" y="116" width="1" height="8" fill="#000"/>
<rect x="229" y="118" width="5" height="3" fill="#000"/>
<rect x="230" y="119" width="3" height="1" fill="#fff"/>
<rect x="239" y="112" width="1" height="12" fill="#000"/>
<rect x="237" y="119" width="5" height="1" fill="#000"/>
<rect x="247" y="114" width="1" height="39" fill="#000"/>
<rect x="245" y="117" width="5" height="24" fill="#000"/>
<rect x="255" y="130" width="1" height="50" fill="#000"/>
<rect x="253" y="130" width="5" height="11" fill="#000"/>
<rect x="254" y="131" width="3" height="9" fill="#fff"/>
<rect x="263" y="74" width="1" height="58" fill="#000"/>
<rect x="261" y="80" width="5" height="50" fill="#000"/>
<rect x="262" y="81" width="3" height="48" fill="#fff"/>
<rect x="271" y="70" width="1" height="15" fill="#000"/>
<rect x="269" y="78" width="5" height="3" fill="#000"/>
<rect x="270" y="79" width="3" height="1" fill="#fff"/>
<rect x="279" y="76" width="1" height="6" fill="#000"/>
<rect x="277" y="78" width="5" height="2" fill="#000"/>
<rect x="287" y="65" width="1" height="21" fill="#000"/>
<rect x="285" y="70" width="5" height="10" fill="#000"/>
<rect x="286" y="71" width="3" height="8" fill="#fff"/>
<rect x="295" y="55" width="1" height="32" fill="#000"/>
<rect x="293" y="69" width="5" height="1" fill="#000"/>
<rect x="303" y="66" width="1" height="91" fill="#000"/>
<rect x="301" y="70" width="5" height="78" fill="#000"/>
<rect x="311" y="90" width="1" height="58" fill="#000"/>
<rect x="309" y="108" width="5" height="40" fill="#000"/>
<rect x="310" y="109" width="3" height="38" fill="#fff"/>
<rect x="319" y="94" width="1" height="18" fill="#000"/>
<rect x="317" y="108" width="5" height="4" fill="#000"/>
<rect x="327" y="104" width="1" height="12" fill="#000"/>
<rect x="325" y="106" width="5" height="6" fill="#000"/>
<rect x="326" y="107" width="3" height="4" fill="#fff"/>
<rect x="335" y="97" width="1" height="13" fill="#000"/>
<rect x="333" y="102" width="5" height="6" fill="#000"/>
<rect x="334" y="103" width="3" height="4" fill="#fff"/>
<rect x="343" y="66" width="1" height="40" fill="#000"/>
<rect x="341" y="85" width="5" height="17" fill="#000"/>
<rect x="342" y="86" width="3" height="15" fill="#fff"/>
<rect x="351" y="80" width="1" height="27" fill="#000"/>
<rect x="349" y="85" width="5" height="2" fill="#000"/>
<rect x="359" y="83" width="1" height="24" fill="#000"/>
<rect x="357" y="86" width="5" height="18" fill="#000"/>
<rect x="367" y="98" width="1" height="44" fill="#000"/>
<rect x="365" y="104" width="5" height="18" fill="#000"/>
<rect x="375" y="109" width="1" height="30" fill="#000"/>
<rect x="373" y="111" width="5" height="11" fill="#000"/>
<rect x="374" y="112" width="3" height="9" fill="#fff"/>
<rect x="383" y="111" width="1" height="27" fill="#000"/>
<rect x="381" y="112" width="5" height="2" fill="#000"/>
<rect x="391" y="106" width="1" height="50" fill="#000"/>
<rect x="389" y="114" width="5" height="42" fill="#000"/>
<rect x="399" y="132" width="1" height="49" fill="#000"/>
<rect x="397" y="154" width="5" height="16" fill="#000"/>
<rect x="407" y="163" width="1" height="114" fill="#000"/>
<rect x="405" y="169" width="5" height="103" fill="#000"/>
<rect x="415" y="253" width="1" height="51" fill="#000"/>
<rect x="413" y="268" width="5" height="4" fill="#000"/>
<rect x="414" y="269" width="3" height="2" fill="#fff"/>
<rect x="423" y="237" width="1" height="39" fill="#000"/>
<rect x="421" y="237" width="5" height="30" fill="#000"/>
<rect x="422" y="238" width="3" height="28" fill="#fff"/>
<rect x="431" y="237" width="1" height="37" fill="#000"/>
<rect x="429" y="237" width="5" height="34" fill="#000"/>
<rect x="439" y="269" width="1" height="107" fill="#000"/>
<rect x="437" y="270" width="5" height="73" fill="#000"/>
<rect x="447" y="293" width="1" height="63" fill="#000"/>
<rect x="445" y="322" width="5" height="21" fill="#000"/>
<rect x="446" y="323" width="3" height="19" fill="#fff"/>
<rect x="455" y="321" width="1" height="90" fill="#000"/>
<rect x="453" y="322" width="5" height="76" fill="#000"/>
<rect x="463" y="383" width="1" height="23" fill="#000"/>
<rect x="461" y="398" width="5" height="6" fill="#000"/>
<rect x="471" y="391" width="1" height="13" fill="#000"/>
<rect x="469" y="398" width="5" height="4" fill="#000"/>
<rect x="470" y="399" width="3" height="2" fill="#fff"/>
<rect x="479" y="379" width="1" height="119" fill="#000"/>
<rect x="477" y="398" width="5" height="84" fill="#000"/>
<rect x="487" y="401" width="1" height="91" fill="#000"/>
<rect x="485" y="404" width="5" height="78" fill="#000"/>
<rect x="486" y="405" width="3" height="76" fill="#fff"/>
<rect x="495" y="328" width="1" height="86" fill="#000"/>
<rect x="493" y="343" width="5" height="61" fill="#000"/>
<rect x="494" y="344" width="3" height="59" fill="#fff"/>
<rect x="503" y="276" width="1" height="80" fill="#000"/>
<rect x="501" y="282" width="5" height="61" fill="#000"/>
<rect x="502" y="283" width="3" height="59" fill="#fff"/>
<rect x="511" y="244" width="1" height="41" fill="#000"/>
<rect x="509" y="251" width="5" height="31" fill="#000"/>
<rect x="510" y="252" width="3" height="29" fill="#fff"/>
<rect x="519" y="237" width="1" height="19" fill="#000"/>
<rect x="517" y="246" width="5" height="6" fill="#000"/>
<rect x="518" y="247" width="3" height="4" fill="#fff"/>
<rect x="527" y="243" width="1" height="47" fill="#000"/>
<rect x="525" y="246" width="5" height="6" fill="#000"/>
<rect x="535" y="248" width="1" height="40" fill="#000"/>
<rect x="533" y="253" width="5" height="24" fill="#000"/>
<rect x="543" y="245" width="1" height="65" fill="#000"/>
<rect x="541" y="252" width="5" height="24" fill="#000"/>
<rect x="542" y="253" width="3" height="22" fill="#fff"/>
<rect x="551" y="185" width="1" height="81" fill="#000"/>
<rect x="549" y="195" width="5" height="57" fill="#000"/>
<rect x="550" y="196" width="3" height="55" fill="#fff"/>
<rect x="559" y="163" width="1" height="33" fill="#000"/>
<rect x="557" y="179" width="5" height="16" fill="#000"/>
<rect x="558" y="180" width="3" height="14" fill="#fff"/>
<rect x="567" y="168" width="1" height="14" fill="#000"/>
<rect x="565" y="175" width="5" height="4" fill="#000"/>
<rect x="566" y="176" width="3" height="2" fill="#fff"/>
<rect x="575" y="160" width="1" height="29" fill="#000"/>
<rect x="573" y="175" width="5" height="7" fill="#000"/>
<rect x="583" y="94" width="1" height="90" fill="#000"/>
<rect x="581" y="106" width="5" height="76" fill="#000"/>
<rect x="582" y="107" width="3" height="74" fill="#fff"/>
<rect x="591" y="90" width="1" height="64" fill="#000"/>
<rect x="589" y="107" width="5" height="11" fill="#000"/>
<rect x="599" y="91" width="1" height="53" fill="#000"/>
<rect x="597" y="114" width="5" height="4" fill="#000"/>
<rect x="598" y="115" width="3" height="2" fill="#fff"/>
<rect x="607" y="102" width="1" height="22" fill="#000"/>
<rect x="605" y="114" width="5" height="6" fill="#000"/>
<rect x="615" y="101" width="1" height="19" fill="#000"/>
<rect x="613" y="102" width="5" height="17" fill="#000"/>
<rect x="614" y="103" width="3" height="15" fill="#fff"/>
<rect x="623" y="91" width="1" height="29" fill="#000"/>
<rect x="621" y="102" width="5" height="12" fill="#000"/>
<rect x="631" y="110" width="1" height="40" fill="#000"/>
<rect x="629" y="115" width="5" height="19" fill="#000"/>
<rect x="639" y="102" width="1" height="101" fill="#000"/>
<rect x="637" y="133" width="5" height="65" fill="#000"/>
<rect x="647" y="185" width="1" height="47" fill="#000"/>
<rect x="645" y="189" width="5" height="10" fill="#000"/>
<rect x="646" y="190" width="3" height="8" fill="#fff"/>
<rect x="655" y="161" width="1" height="33" fill="#000"/>
<rect x="653" y="164" width="5" height="26" fill="#000"/>
<rect x="654" y="165" width="3" height="24" fill="#fff"/>
<rect x="663" y="160" width="1" height="33" fill="#000"/>
<rect x="661" y="164" width="5" height="12" fill="#000"/>
<rect x="671" y="156" width="1" height="21" fill="#000"/>
<rect x="669" y="169" width="5" height="7" fill="#000"/>
<rect x="670" y="170" width="3" height="5" fill="#fff"/>
<rect x="679" y="168" width="1" height="48" fill="#000"/>
<rect x="677" y="169" width="5" height="39" fill="#000"/>
<rect x="687" y="202" width="1" height="31" fill="#000"/>
<rect x="685" y="206" width="5" height="22" fill="#000"/>
<rect x="695" y="193" width="1" height="63" fill="#000"/>
<rect x="693" y="216" width="5" height="11" fill="#000"/>
<rect x="694" y="217" width="3" height="9" fill="#fff"/>
<rect x="703" y="200" width="1" height="41" fill="#000"/>
<rect x="701" y="216" width="5" height="20" fill="#000"/>
<rect x="711" y="213" width="1" height="14" fill="#000"/>
<rect x="709" y="214" width="5" height="12" fill="#000"/>
<rect x="710" y="215" width="3" height="10" fill="#fff"/>
<rect x="719" y="215" width="1" height="42" fill="#000"/>
<rect x="717" y="216" width="5" height="38" fill="#000"/>
<rect x="727" y="189" width="1" height="65" fill="#000"/>
<rect x="725" y="203" width="5" height="51" fill="#000"/>
<rect x="726" y="204" width="3" height="49" fill="#fff"/>
<rect x="735" y="191" width="1" height="41" fill="#000"/>
<rect x="733" y="203" width="5" height="1" fill="#000"/>
<rect x="743" y="189" width="1" height="83" fill="#000"/>
<rect x="741" y="203" width="5" height="59" fill="#000"/>
<rect x="751" y="259" width="1" height="20" fill="#000"/>
<rect x="749" y="260" width="5" height="10" fill="#000"/>
<rect x="759" y="260" width="1" height="14" fill="#000"/>
<rect x="757" y="265" width="5" height="5" fill="#000"/>
<rect x="758" y="266" width="3" height="3" fill="#fff"/>
<rect x="767" y="264" width="1" height="41" fill="#000"/>
<rect x="765" y="264" width="5" height="30" fill="#000"/>
<rect x="775" y="266" width="1" height="30" fill="#000"/>
<rect x="773" y="278" width="5" height="16" fill="#000"/>
<rect x="774" y="279" width="3" height="14" fill="#fff"/>
<rect x="783" y="269" width="1" height="69" fill="#000"/>
<rect x="781" y="277" width="5" height="50" fill="#000"/>
<rect x="791" y="306" width="1" height="54" fill="#000"/>
<rect x="789" y="315" width="5" height="12" fill="#000"/>
<rect x="790" y="316" width="3" height="10" fill="#fff"/>
<rect x="799" y="304" width="1" height="20" fill="#000"/>
<rect x="797" y="308" width="5" height="8" fill="#000"/>
<rect x="798" y="309" width="3" height="6" fill="#fff"/>
<rect x="807" y="307" width="1" height="34" fill="#000"/>
<rect x="805" y="308" width="5" height="13" fill="#000"/>
<rect x="815" y="298" width="1" height="26" fill="#000"/>
<rect x="813" y="314" width="5" height="8" fill="#000"/>
<rect x="814" y="315" width="3" height="6" fill="#fff"/>
<rect x="823" y="311" width="1" height="41" fill="#000"/>
<rect x="821" y="314" width="5" height="16" fill="#000"/>
<rect x="831" y="288" width="1" height="66" fill="#000"/>
<rect x="829" y="290" width="5" height="40" fill="#000"/>
<rect x="830" y="291" width="3" height="38" fill="#fff"/>
<rect x="839" y="274" width="1" height="53" fill="#000"/>
<rect x="837" y="288" width="5" height="2" fill="#000"/>
<rect x="847" y="247" width="1" height="45" fill="#000"/>
<rect x="845" y="248" width="5" height="40" fill="#000"/>
<rect x="846" y="249" width="3" height="38" fill="#fff"/>
<rect x="855" y="239" width="1" height="23" fill="#000"/>
<rect x="853" y="248" width="5" height="2" fill="#000"/>
<rect x="863" y="246" width="1" height="36" fill="#000"/>
<rect x="861" y="247" width="5" height="19" fill="#000"/>
<rect x="871" y="225" width="1" height="48" fill="#000"/>
<rect x="869" y="237" width="5" height="29" fill="#000"/>
<rect x="870" y="238" width="3" height="27" fill="#fff"/>
<rect x="879" y="216" width="1" height="59" fill="#000"/>
<rect x="877" y="220" width="5" height="18" fill="#000"/>
<rect x="878" y="221" width="3" height="16" fill="#fff"/>
<rect x="887" y="217" width="1" height="45" fill="#000"/>
<rect x="885" y="220" width="5" height="24" fill="#000"/>
<rect x="895" y="241" width="1" height="33" fill="#000"/>
<rect x="893" y="243" width="5" height="27" fill="#000"/>
<rect x="903" y="262" width="1" height="17" fill="#000"/>
<rect x="901" y="266" width="5" height="4" fill="#000"/>
<rect x="902" y="267" width="3" height="2" fill="#fff"/>
<rect x="911" y="243" width="1" height="23" fill="#000"/>
<rect x="909" y="253" width="5" height="13" fill="#000"/>
<rect x="910" y="254" width="3" height="11" fill="#fff"/>
<rect x="919" y="245" width="1" height="28" fill="#000"/>
<rect x="917" y="253" width="5" height="13" fill="#000"/>
<rect x="927" y="257" width="1" height="54" fill="#000"/>
<rect x="925" y="263" width="5" height="43" fill="#000"/>
<rect x="935" y="261" width="1" height="49" fill="#000"/>
<rect x="933" y="266" width="5" height="40" fill="#000"/>
<rect x="934" y="267" width="3" height="38" fill="#fff"/>
<rect x="943" y="244" width="1" height="28" fill="#000"/>
<rect x="941" y="250" width="5" height="17" fill="#000"/>
<rect x="942" y="251" width="3" height="15" fill="#fff"/>
<rect x="951" y="240" width="1" height="6" fill="#000"/>
<rect x="949" y="241" width="5" height="2" fill="#000"/>
<rect x="959" y="242" width="1" height="20" fill="#000"/>
<rect x="957" y="242" width="5" height="16" fill="#000"/>
<rect x="967" y="242" width="1" height="21" fill="#000"/>
<rect x="965" y="257" width="5" height="1" fill="#000"/>
<rect x="975" y="248" width="1" height="22" fill="#000"/>
<rect x="973" y="257" width="5" height="1" fill="#000"/>
<rect x="983" y="248" width="1" height="16" fill="#000"/>
<rect x="981" y="252" width="5" height="6" fill="#000"/>
<rect x="982" y="253" width="3" height="4" fill="#fff"/>
<rect x="991" y="244" width="1" height="22" fill="#000"/>
<rect x="989" y="249" width="5" height="3" fill="#000"/>
<rect x="990" y="250" width="3" height="1" fill="#fff"/>
<rect x="999" y="242" width="1" height="30" fill="#000"/>
<rect x="997" y="249" width="5" height="2" fill="#000"/>
<rect x="1007" y="217" width="1" height="45" fill="#000"/>
<rect x="1005" y="224" width="5" height="26" fill="#000"/>
<rect x="1006" y="225" width="3" height="24" fill="#fff"/>
<rect x="1015" y="205" width="1" height="47" fill="#000"/>
<rect x="1013" y="224" width="5" height="26" fill="#000"/>
<rect x="1023" y="248" width="1" height="50" fill="#000"/>
<rect x="1021" y="250" width="5" height="37" fill="#000"/>
<rect x="1031" y="263" width="1" height="119" fill="#000"/>
<rect x="1029" y="286" width="5" height="74" fill="#000"/>
<rect x="1039" y="347" width="1" height="41" fill="#000"/>
<rect x="1037" y="355" width="5" height="5" fill="#000"/>
<rect x="1038" y="356" width="3" height="3" fill="#fff"/>
<rect x="1047" y="348" width="1" height="14" fill="#000"/>
<rect x="1045" y="354" width="5" height="1" fill="#000"/>
<rect x="1055" y="354" width="1" height="37" fill="#000"/>
<rect x="1053" y="355" width="5" height="3" fill="#000"/>
<rect x="1063" y="324" width="1" height="57" fill="#000"/>
<rect x="1061" y="352" width="5" height="6" fill="#000"/>
<rect x="1062" y="353" width="3" height="4" fill="#fff"/>
<rect x="1071" y="300" width="1" height="65" fill="#000"/>
<rect x="1069" y="311" width="5" height="43" fill="#000"/>
<rect x="1070" y="312" width="3" height="41" fill="#fff"/>
<rect x="1079" y="308" width="1" height="87" fill="#000"/>
<rect x="1077" y="311" width="5" height="55" fill="#000"/>
<rect x="1087" y="343" width="1" height="25" fill="#000"/>
<rect x="1085" y="358" width="5" height="6" fill="#000"/>
<rect x="1086" y="359" width="3" height="4" fill="#fff"/>
<rect x="1095" y="346" width="1" height="15" fill="#000"/>
<rect x="1093" y="354" width="5" height="5" fill="#000"/>
<rect x="1094" y="355" width="3" height="3" fill="#fff"/>
<rect x="1103" y="352" width="1" height="52" fill="#000"/>
<rect x="1101" y="354" width="5" height="30" fill="#000"/>
<rect x="1111" y="382" width="1" height="132" fill="#000"/>
<rect x="1109" y="384" width="5" height="118" fill="#000"/>
<rect x="1119" y="452" width="1" height="82" fill="#000"/>
<rect x="1117" y="502" width="5" height="28" fill="#000"/>
<rect x="1127" y="504" width="1" height="63" fill="#000"/>
<rect x="1125" y="512" width="5" height="18" fill="#000"/>
<rect x="1126" y="513" width="3" height="16" fill="#fff"/>
<rect x="1135" y="491" width="1" height="28" fill="#000"/>
<rect x="1133" y="499" width="5" height="13" fill="#000"/>
<rect x="1134" y="500" width="3" height="11" fill="#fff"/>
<rect x="1143" y="478" width="1" height="37" fill="#000"/>
<rect x="1141" y="489" width="5" height="9" fill="#000"/>
<rect x="1142" y="490" width="3" height="7" fill="#fff"/>
<rect x="1151" y="472" width="1" height="42" fill="#000"/>
<rect x="1149" y="487" width="5" height="1" fill="#000"/>
<rect x="1159" y="458" width="1" height="38" fill="#000"/>
<rect x="1157" y="470" width="5" height="17" fill="#000"/>
<rect x="1158" y="471" width="3" height="15" fill="#fff"/>
<rect x="1167" y="410" width="1" height="64" fill="#000"/>
<rect x="1165" y="419" width="5" height="51" fill="#000"/>
<rect x="1166" y="420" width="3" height="49" fill="#fff"/>
<rect x="1175" y="340" width="1" height="80" fill="#000"/>
<rect x="1173" y="373" width="5" height="47" fill="#000"/>
<rect x="1174" y="374" width="3" height="45" fill="#fff"/>
<rect x="1183" y="318" width="1" height="54" fill="#000"/>
<rect x="1181" y="319" width="5" height="53" fill="#000"/>
<rect x="1182" y="320" width="3" height="51" fill="#fff"/>
<rect x="1191" y="294" width="1" height="19" fill="#000"/>
<rect x="1189" y="299" width="5" height="3" fill="#000"/>
<rect x="1190" y="300" width="3" height="1" fill="#fff"/>
<rect x="1199" y="292" width="1" height="36" fill="#000"/>
<rect x="1197" y="300" width="5" height="24" fill="#000"/>
<rect x="1207" y="303" width="1" height="59" fill="#000"/>
<rect x="1205" y="322" width="5" height="30" fill="#000"/>
<rect x="1215" y="340" width="1" height="43" fill="#000"/>
<rect x="1213" y="351" width="5" height="15" fill="#000"/>
<rect x="1223" y="282" width="1" height="94" fill="#000"/>
<rect x="1221" y="293" width="5" height="73" fill="#000"/>
<rect x="1222" y="294" width="3" height="71" fill="#fff"/>
<rect x="1231" y="292" width="1" height="23" fill="#000"/>
<rect x="1229" y="293" width="5" height="7" fill="#000"/>
<rect x="1239" y="292" width="1" height="10" fill="#000"/>
<rect x="1237" y="298" width="5" height="2" fill="#000"/>
<rect x="1247" y="265" width="1" height="37" fill="#000"/>
<rect x="1245" y="276" width="5" height="22" fill="#000"/>
<rect x="1246" y="277" width="3" height="20" fill="#fff"/>
<rect x="1255" y="271" width="1" height="50" fill="#000"/>
<rect x="1253" y="276" width="5" height="42" fill="#000"/>
<rect x="1263" y="316" width="1" height="52" fill="#000"/>
<rect x="1261" y="318" width="5" height="40" fill="#000"/>
<rect x="1271" y="336" width="1" height="45" fill="#000"/>
<rect x="1269" y="338" width="5" height="20" fill="#000"/>
<rect x="1270" y="339" width="3" height="18" fill="#fff"/>
<rect x="1279" y="324" width="1" height="25" fill="#000"/>
<rect x="1277" y="338" width="5" height="8" fill="#000"/>
<rect x="1287" y="335" width="1" height="19" fill="#000"/>
<rect x="1285" y="344" width="5" height="10" fill="#000"/>
<rect x="1295" y="334" width="1" height="26" fill="#000"/>
<rect x="1293" y="351" width="5" height="4" fill="#000"/>
<rect x="1294" y="352" width="3" height="2" fill="#fff"/>
<rect x="1303" y="309" width="1" height="52" fill="#000"/>
<rect x="1301" y="328" width="5" height="24" fill="#000"/>
<rect x="1302" y="329" width="3" height="22" fill="#fff"/>
<rect x="1311" y="288" width="1" height="43" fill="#000"/>
<rect x="1309" y="308" width="5" height="20" fill="#000"/>
<rect x="1310" y="309" width="3" height="18" fill="#fff"/>
<rect x="1319" y="302" width="1" height="81" fill="#000"/>
<rect x="1317" y="309" width="5" height="71" fill="#000"/>
<rect x="1327" y="372" width="1" height="18" fill="#000"/>
<rect x="1325" y="380" width="5" height="4" fill="#000"/>
<rect x="1335" y="377" width="1" height="15" fill="#000"/>
<rect x="1333" y="381" width="5" height="4" fill="#000"/>
<rect x="1334" y="382" width="3" height="2" fill="#fff"/>
<rect x="1343" y="378" width="1" height="66" fill="#000"/>
<rect x="1341" y="381" width="5" height="48" fill="#000"/>
<rect x="1351" y="391" width="1" height="77" fill="#000"/>
<rect x="1349" y="428" width="5" height="26" fill="#000"/>
<rect x="1359" y="340" width="1" height="127" fill="#000"/>
<rect x="1357" y="363" width="5" height="91" fill="#000"/>
<rect x="1358" y="364" width="3" height="89" fill="#fff"/>
<rect x="1367" y="356" width="1" height="61" fill="#000"/>
<rect x="1365" y="364" width="5" height="18" fill="#000"/>
<rect x="1375" y="379" width="1" height="88" fill="#000"/>
<rect x="1373" y="382" width="5" height="69" fill="#000"/>
<rect x="1383" y="432" width="1" height="20" fill="#000"/>
<rect x="1381" y="446" width="5" height="4" fill="#000"/>
<rect x="1382" y="447" width="3" height="2" fill="#fff"/>
<rect x="1391" y="402" width="1" height="49" fill="#000"/>
<rect x="1389" y="408" width="5" height="38" fill="#000"/>
<rect x="1390" y="409" width="3" height="36" fill="#fff"/>
<rect x="1399" y="397" width="1" height="48" fill="#000"/>
<rect x="1397" y="408" width="5" height="6" fill="#000"/>
<rect x="1407" y="360" width="1" height="62" fill="#000"/>
<rect x="1405" y="403" width="5" height="11" fill="#000"/>
<rect x="1406" y="404" width="3" height="9" fill="#fff"/>
<rect x="1415" y="376" width="1" height="78" fill="#000"/>
<rect x="1413" y="403" width="5" height="45" fill="#000"/>
<rect x="1423" y="441" width="1" height="36" fill="#000"/>
<rect x="1421" y="447" width="5" height="27" fill="#000"/>
<rect x="0" y="106" width="2" height="5" fill="#000"/>
</g>
<rect x="0" y="409" width="3" height="1" fill="#ff0000"/><rect x="0" y="413" width="3" height="1" fill="#ff0000"/><rect x="3" y="409" width="1" height="5" fill="#ff0000"/><rect x="0" y="410" width="3" height="3" fill="#fff"/>
<rect x="1652.5" y="409.5" width="4" height="4" fill="#fff" stroke="#ff0000" stroke-width="1"/>
<rect x="0" y="431" width="3" height="1" fill="#ff0000"/><rect x="0" y="435" width="3" height="1" fill="#ff0000"/><rect x="3" y="431" width="1" height="5" fill="#ff0000"/><rect x="0" y="432" width="3" height="3" fill="#fff"/>
<rect x="1652.5" y="431.5" width="4" height="4" fill="#fff" stroke="#ff0000" stroke-width="1"/>
<rect x="0" y="455" width="3" height="1" fill="#32cd32"/><rect x="0" y="459" width="3" height="1" fill="#32cd32"/><rect x="3" y="455" width="1" height="5" fill="#32cd32"/><rect x="0" y="456" width="3" height="3" fill="#fff"/>
<rect x="1652.5" y="455.5" width="4" height="4" fill="#fff" stroke="#32cd32" stroke-width="1"/>
<rect x="0" y="509" width="3" height="1" fill="#0000ff"/><rect x="0" y="513" width="3" height="1" fill="#0000ff"/><rect x="3" y="509" width="1" height="5" fill="#0000ff"/><rect x="0" y="510" width="3" height="3" fill="#fff"/>
<rect x="1652.5" y="509.5" width="4" height="4" fill="#fff" stroke="#0000ff" stroke-width="1"/>
</g>
<rect x="408.5" y="490.5" width="61" height="17" fill="#fff" stroke="#ff0000" stroke-width="1" shape-rendering="crispEdges"/><polyline points="469,499.5 479.5,499.5" fill="none" stroke="#ff0000" stroke-width="1" shape-rendering="crispEdges"/><text x="439" y="505.31" font-size="17.6" fill="#ff0000" text-anchor="middle" style='font-family:"Liberation Serif","Noto Serif CJK SC",serif' textLength="57.5" lengthAdjust="spacingAndGlyphs">151.291</text>
<rect x="720.5" y="351.5" width="61" height="18" fill="#fff" stroke="#ff0000" stroke-width="1" shape-rendering="crispEdges"/><polyline points="781,360.5 791.5,360.5" fill="none" stroke="#ff0000" stroke-width="1" shape-rendering="crispEdges"/><text x="751" y="367.14" font-size="17.6" fill="#ff0000" text-anchor="middle" style='font-family:"Liberation Serif","Noto Serif CJK SC",serif' textLength="57.5" lengthAdjust="spacingAndGlyphs">152.601</text>
<rect x="1056.5" y="558.5" width="61" height="18" fill="#fff" stroke="#ff0000" stroke-width="1" shape-rendering="crispEdges"/><polyline points="1117,567.5 1127.5,567.5" fill="none" stroke="#ff0000" stroke-width="1" shape-rendering="crispEdges"/><text x="1087" y="574.14" font-size="17.6" fill="#ff0000" text-anchor="middle" style='font-family:"Liberation Serif","Noto Serif CJK SC",serif' textLength="57.5" lengthAdjust="spacingAndGlyphs">150.646</text>
<rect x="1176.5" y="256.5" width="61" height="18" fill="#fff" stroke="#ff0000" stroke-width="1" shape-rendering="crispEdges"/><polyline points="1237,265.5 1247.5,265.5 1247.5,267" fill="none" stroke="#ff0000" stroke-width="1" shape-rendering="crispEdges"/><text x="1207" y="272.14" font-size="17.6" fill="#ff0000" text-anchor="middle" style='font-family:"Liberation Serif","Noto Serif CJK SC",serif' textLength="57.5" lengthAdjust="spacingAndGlyphs">153.491</text>
<rect x="1234.5" y="445.5" width="73" height="24" fill="#fff" stroke="#ff0000" stroke-width="1" shape-rendering="crispEdges"/><polyline points="1224,457.5 1231,457.5" fill="none" stroke="#ff0000" stroke-width="1" shape-rendering="crispEdges"/><text x="1271" y="466.12" font-size="25.5" fill="#ff0000" text-anchor="middle" style='font-family:"Liberation Serif","Noto Serif CJK SC",serif' textLength="70.5" lengthAdjust="spacingAndGlyphs">151.686</text>
<rect x="1231.5" y="455.5" width="3" height="4" fill="#fff" stroke="#f00" shape-rendering="crispEdges"/>
<polygon points="1418,28 1430,28 1424,34" fill="#c0c0c0"/>
<rect x="1339" y="453" width="118" height="9" fill="#00ff00" shape-rendering="crispEdges"/>
<text x="1449" y="449" font-size="19" fill="#00ff00" text-anchor="start" style='font-family:"Liberation Serif","Noto Serif CJK SC",serif' font-weight="300" textLength="107" lengthAdjust="spacing">多空转折点</text>
<line x1="1256.5" y1="277.5" x2="1459.2" y2="485.6" stroke="#ff0000" stroke-width="2.7"/><polygon points="1465.5,492.0 1454.5,487.3 1461.1,480.9" fill="#ff0000"/>
<line x1="1268.0" y1="620.5" x2="1431.3" y2="661.3" stroke="#ff0000" stroke-width="2.7"/><polygon points="1440.0,663.5 1428.2,665.3 1430.4,656.4" fill="#ff0000"/>
<line x1="1257.0" y1="834.5" x2="1431.6" y2="861.1" stroke="#ff0000" stroke-width="2.7"/><polygon points="1440.5,862.5 1428.9,865.4 1430.3,856.3" fill="#ff0000"/>
<g shape-rendering="crispEdges">
<rect x="7" y="637" width="1" height="9" fill="#c0c0c0"/>
<rect x="15" y="637" width="1" height="11" fill="#c0c0c0"/>
<rect x="23" y="637" width="1" height="13" fill="#c0c0c0"/>
<rect x="31" y="637" width="1" height="15" fill="#c0c0c0"/>
<rect x="39" y="637" width="1" height="15" fill="#c0c0c0"/>
<rect x="47" y="637" width="1" height="16" fill="#c0c0c0"/>
<rect x="55" y="637" width="1" height="17" fill="#c0c0c0"/>
<rect x="63" y="637" width="1" height="18" fill="#c0c0c0"/>
<rect x="71" y="637" width="1" height="18" fill="#c0c0c0"/>
<rect x="79" y="637" width="1" height="17" fill="#c0c0c0"/>
<rect x="87" y="637" width="1" height="15" fill="#c0c0c0"/>
<rect x="95" y="637" width="1" height="14" fill="#c0c0c0"/>
<rect x="103" y="637" width="1" height="11" fill="#c0c0c0"/>
<rect x="111" y="637" width="1" height="10" fill="#c0c0c0"/>
<rect x="119" y="637" width="1" height="11" fill="#c0c0c0"/>
<rect x="127" y="637" width="1" height="12" fill="#c0c0c0"/>
<rect x="135" y="637" width="1" height="14" fill="#c0c0c0"/>
<rect x="143" y="637" width="1" height="15" fill="#c0c0c0"/>
<rect x="151" y="637" width="1" height="21" fill="#c0c0c0"/>
<rect x="159" y="637" width="1" height="22" fill="#c0c0c0"/>
<rect x="167" y="637" width="1" height="17" fill="#c0c0c0"/>
<rect x="175" y="637" width="1" height="14" fill="#c0c0c0"/>
<rect x="183" y="637" width="1" height="11" fill="#c0c0c0"/>
<rect x="191" y="637" width="1" height="7" fill="#c0c0c0"/>
<rect x="199" y="637" width="1" height="5" fill="#c0c0c0"/>
<rect x="207" y="637" width="1" height="3" fill="#c0c0c0"/>
<rect x="215" y="637" width="1" height="3" fill="#c0c0c0"/>
<rect x="223" y="637" width="1" height="4" fill="#c0c0c0"/>
<rect x="231" y="637" width="1" height="4" fill="#c0c0c0"/>
<rect x="239" y="637" width="1" height="4" fill="#c0c0c0"/>
<rect x="247" y="637" width="1" height="5" fill="#c0c0c0"/>
<rect x="255" y="637" width="1" height="6" fill="#c0c0c0"/>
<rect x="263" y="637" width="1" height="1" fill="#c0c0c0"/>
<rect x="271" y="635" width="1" height="3" fill="#c0c0c0"/>
<rect x="279" y="632" width="1" height="6" fill="#c0c0c0"/>
<rect x="287" y="629" width="1" height="9" fill="#c0c0c0"/>
<rect x="295" y="626" width="1" height="12" fill="#c0c0c0"/>
<rect x="303" y="632" width="1" height="6" fill="#c0c0c0"/>
<rect x="311" y="635" width="1" height="3" fill="#c0c0c0"/>
<rect x="319" y="634" width="1" height="4" fill="#c0c0c0"/>
<rect x="327" y="634" width="1" height="4" fill="#c0c0c0"/>
<rect x="335" y="634" width="1" height="4" fill="#c0c0c0"/>
<rect x="343" y="632" width="1" height="6" fill="#c0c0c0"/>
<rect x="351" y="631" width="1" height="7" fill="#c0c0c0"/>
<rect x="359" y="632" width="1" height="6" fill="#c0c0c0"/>
<rect x="367" y="634" width="1" height="4" fill="#c0c0c0"/>
<rect x="375" y="636" width="1" height="2" fill="#c0c0c0"/>
<rect x="383" y="637" width="1" height="1" fill="#c0c0c0"/>
<rect x="391" y="637" width="1" height="4" fill="#c0c0c0"/>
<rect x="399" y="637" width="1" height="9" fill="#c0c0c0"/>
<rect x="407" y="637" width="1" height="25" fill="#c0c0c0"/>
<rect x="415" y="637" width="1" height="34" fill="#c0c0c0"/>
<rect x="423" y="637" width="1" height="40" fill="#c0c0c0"/>
<rect x="431" y="637" width="1" height="47" fill="#c0c0c0"/>
<rect x="439" y="637" width="1" height="60" fill="#c0c0c0"/>
<rect x="447" y="637" width="1" height="67" fill="#c0c0c0"/>
<rect x="455" y="637" width="1" height="79" fill="#c0c0c0"/>
<rect x="463" y="637" width="1" height="89" fill="#c0c0c0"/>
<rect x="471" y="637" width="1" height="93" fill="#c0c0c0"/>
<rect x="479" y="637" width="1" height="107" fill="#c0c0c0"/>
<rect x="487" y="637" width="1" height="107" fill="#c0c0c0"/>
<rect x="495" y="637" width="1" height="99" fill="#c0c0c0"/>
<rect x="503" y="637" width="1" height="86" fill="#c0c0c0"/>
<rect x="511" y="637" width="1" height="72" fill="#c0c0c0"/>
<rect x="519" y="637" width="1" height="59" fill="#c0c0c0"/>
<rect x="527" y="637" width="1" height="49" fill="#c0c0c0"/>
<rect x="535" y="637" width="1" height="43" fill="#c0c0c0"/>
<rect x="543" y="637" width="1" height="35" fill="#c0c0c0"/>
<rect x="551" y="637" width="1" height="23" fill="#c0c0c0"/>
<rect x="559" y="637" width="1" height="12" fill="#c0c0c0"/>
<rect x="567" y="637" width="1" height="1" fill="#c0c0c0"/>
<rect x="575" y="633" width="1" height="5" fill="#c0c0c0"/>
<rect x="583" y="620" width="1" height="18" fill="#c0c0c0"/>
<rect x="591" y="611" width="1" height="27" fill="#c0c0c0"/>
<rect x="599" y="604" width="1" height="34" fill="#c0c0c0"/>
<rect x="607" y="599" width="1" height="39" fill="#c0c0c0"/>
<rect x="615" y="594" width="1" height="44" fill="#c0c0c0"/>
<rect x="623" y="592" width="1" height="46" fill="#c0c0c0"/>
<rect x="631" y="593" width="1" height="45" fill="#c0c0c0"/>
<rect x="639" y="601" width="1" height="37" fill="#c0c0c0"/>
<rect x="647" y="606" width="1" height="32" fill="#c0c0c0"/>
<rect x="655" y="609" width="1" height="29" fill="#c0c0c0"/>
<rect x="663" y="612" width="1" height="26" fill="#c0c0c0"/>
<rect x="671" y="614" width="1" height="24" fill="#c0c0c0"/>
<rect x="679" y="620" width="1" height="18" fill="#c0c0c0"/>
<rect x="687" y="627" width="1" height="11" fill="#c0c0c0"/>
<rect x="695" y="631" width="1" height="7" fill="#c0c0c0"/>
<rect x="703" y="637" width="1" height="1" fill="#c0c0c0"/>
<rect x="711" y="637" width="1" height="1" fill="#c0c0c0"/>
<rect x="719" y="637" width="1" height="7" fill="#c0c0c0"/>
<rect x="727" y="637" width="1" height="5" fill="#c0c0c0"/>
<rect x="735" y="637" width="1" height="5" fill="#c0c0c0"/>
<rect x="743" y="637" width="1" height="11" fill="#c0c0c0"/>
<rect x="751" y="637" width="1" height="15" fill="#c0c0c0"/>
<rect x="759" y="637" width="1" height="19" fill="#c0c0c0"/>
<rect x="767" y="637" width="1" height="23" fill="#c0c0c0"/>
<rect x="775" y="637" width="1" height="27" fill="#c0c0c0"/>
<rect x="783" y="637" width="1" height="33" fill="#c0c0c0"/>
<rect x="791" y="637" width="1" height="37" fill="#c0c0c0"/>
<rect x="799" y="637" width="1" height="37" fill="#c0c0c0"/>
<rect x="807" y="637" width="1" height="40" fill="#c0c0c0"/>
<rect x="815" y="637" width="1" height="41" fill="#c0c0c0"/>
<rect x="823" y="637" width="1" height="43" fill="#c0c0c0"/>
<rect x="831" y="637" width="1" height="39" fill="#c0c0c0"/>
<rect x="839" y="637" width="1" height="35" fill="#c0c0c0"/>
<rect x="847" y="637" width="1" height="29" fill="#c0c0c0"/>
<rect x="855" y="637" width="1" height="23" fill="#c0c0c0"/>
<rect x="863" y="637" width="1" height="20" fill="#c0c0c0"/>
<rect x="871" y="637" width="1" height="13" fill="#c0c0c0"/>
<rect x="879" y="637" width="1" height="8" fill="#c0c0c0"/>
<rect x="887" y="637" width="1" height="5" fill="#c0c0c0"/>
<rect x="895" y="637" width="1" height="6" fill="#c0c0c0"/>
<rect x="903" y="637" width="1" height="6" fill="#c0c0c0"/>
<rect x="911" y="637" width="1" height="4" fill="#c0c0c0"/>
<rect x="919" y="637" width="1" height="3" fill="#c0c0c0"/>
<rect x="927" y="637" width="1" height="9" fill="#c0c0c0"/>
<rect x="935" y="637" width="1" height="7" fill="#c0c0c0"/>
<rect x="943" y="637" width="1" height="5" fill="#c0c0c0"/>
<rect x="951" y="637" width="1" height="2" fill="#c0c0c0"/>
<rect x="959" y="637" width="1" height="1" fill="#c0c0c0"/>
<rect x="967" y="637" width="1" height="1" fill="#c0c0c0"/>
<rect x="975" y="637" width="1" height="1" fill="#c0c0c0"/>
<rect x="983" y="637" width="1" height="1" fill="#c0c0c0"/>
<rect x="991" y="636" width="1" height="2" fill="#c0c0c0"/>
<rect x="999" y="636" width="1" height="2" fill="#c0c0c0"/>
<rect x="1007" y="633" width="1" height="5" fill="#c0c0c0"/>
<rect x="1015" y="633" width="1" height="5" fill="#c0c0c0"/>
<rect x="1023" y="637" width="1" height="1" fill="#c0c0c0"/>
<rect x="1031" y="637" width="1" height="10" fill="#c0c0c0"/>
<rect x="1039" y="637" width="1" height="18" fill="#c0c0c0"/>
<rect x="1047" y="637" width="1" height="23" fill="#c0c0c0"/>
<rect x="1055" y="637" width="1" height="28" fill="#c0c0c0"/>
<rect x="1063" y="637" width="1" height="31" fill="#c0c0c0"/>
<rect x="1071" y="637" width="1" height="29" fill="#c0c0c0"/>
<rect x="1079" y="637" width="1" height="32" fill="#c0c0c0"/>
<rect x="1087" y="637" width="1" height="33" fill="#c0c0c0"/>
<rect x="1095" y="637" width="1" height="33" fill="#c0c0c0"/>
<rect x="1103" y="637" width="1" height="37" fill="#c0c0c0"/>
<rect x="1111" y="637" width="1" height="51" fill="#c0c0c0"/>
<rect x="1119" y="637" width="1" height="65" fill="#c0c0c0"/>
<rect x="1127" y="637" width="1" height="73" fill="#c0c0c0"/>
<rect x="1135" y="637" width="1" height="77" fill="#c0c0c0"/>
<rect x="1143" y="637" width="1" height="78" fill="#c0c0c0"/>
<rect x="1151" y="637" width="1" height="78" fill="#c0c0c0"/>
<rect x="1159" y="637" width="1" height="75" fill="#c0c0c0"/>
<rect x="1167" y="637" width="1" height="67" fill="#c0c0c0"/>
<rect x="1175" y="637" width="1" height="55" fill="#c0c0c0"/>
<rect x="1183" y="637" width="1" height="39" fill="#c0c0c0"/>
<rect x="1191" y="637" width="1" height="23" fill="#c0c0c0"/>
<rect x="1199" y="637" width="1" height="15" fill="#c0c0c0"/>
<rect x="1207" y="637" width="1" height="10" fill="#c0c0c0"/>
<rect x="1215" y="637" width="1" height="8" fill="#c0c0c0"/>
<rect x="1223" y="637" width="1" height="1" fill="#c0c0c0"/>
<rect x="1231" y="630" width="1" height="8" fill="#c0c0c0"/>
<rect x="1239" y="625" width="1" height="13" fill="#c0c0c0"/>
<rect x="1247" y="618" width="1" height="20" fill="#c0c0c0"/>
<rect x="1255" y="618" width="1" height="20" fill="#c0c0c0"/>
<rect x="1263" y="622" width="1" height="16" fill="#c0c0c0"/>
<rect x="1271" y="624" width="1" height="14" fill="#c0c0c0"/>
<rect x="1279" y="626" width="1" height="12" fill="#c0c0c0"/>
<rect x="1287" y="627" width="1" height="11" fill="#c0c0c0"/>
<rect x="1295" y="628" width="1" height="10" fill="#c0c0c0"/>
<rect x="1303" y="628" width="1" height="10" fill="#c0c0c0"/>
<rect x="1311" y="626" width="1" height="12" fill="#c0c0c0"/>
<rect x="1319" y="634" width="1" height="4" fill="#c0c0c0"/>
<rect x="1327" y="637" width="1" height="1" fill="#c0c0c0"/>
<rect x="1335" y="637" width="1" height="2" fill="#c0c0c0"/>
<rect x="1343" y="637" width="1" height="10" fill="#c0c0c0"/>
<rect x="1351" y="637" width="1" height="19" fill="#c0c0c0"/>
<rect x="1359" y="637" width="1" height="15" fill="#c0c0c0"/>
<rect x="1367" y="637" width="1" height="13" fill="#c0c0c0"/>
<rect x="1375" y="637" width="1" height="21" fill="#c0c0c0"/>
<rect x="1383" y="637" width="1" height="25" fill="#c0c0c0"/>
<rect x="1391" y="637" width="1" height="24" fill="#c0c0c0"/>
<rect x="1399" y="637" width="1" height="24" fill="#c0c0c0"/>
<rect x="1407" y="637" width="1" height="23" fill="#c0c0c0"/>
<rect x="1415" y="637" width="1" height="26" fill="#c0c0c0"/>
<rect x="1423" y="637" width="1" height="31" fill="#c0c0c0"/>
<path d="M234 644.5h2M933 644.5h3M1053 644.5h2M1374 644.5h3M6 631.5h3M336 631.5h3M342 631.5h3M348 631.5h3M354 631.5h3M735 631.5h2M1284 625.5h2M1320 625.5h2M693 610.5h2M432 656.5h2M790 656.5h2M1410 656.5h3M1161 701.5h2M1138 687.5h2M628 611.5h2M403 637.5h2M1006 637.5h2M1029 637.5h3M1356 637.5h2M66 652.5h3M108 652.5h3M114 652.5h3M156 652.5h3M162 652.5h3M168 652.5h3M192 652.5h3M1072 652.5h2M72 653.5h3M78 653.5h3M84 653.5h3M90 653.5h3M96 653.5h3M102 653.5h2M174 653.5h3M180 653.5h3M186 653.5h2M783 653.5h2M903 653.5h2M1398 653.5h3M25 639.5h2M276 639.5h3M282 639.5h2M999 639.5h3M1041 639.5h3M1362 639.5h2M1155 698.5h2M1192 698.5h2M18 636.5h2M294 636.5h3M1012 636.5h2M1017 636.5h3M1023 636.5h3M246 642.5h3M252 642.5h3M258 642.5h2M759 642.5h2M951 642.5h3M957 642.5h3M963 642.5h3M969 642.5h3M1369 642.5h2M318 633.5h3M372 633.5h3M378 633.5h3M1345 633.5h2M0 629.5h2M49 647.5h2M222 647.5h3M420 647.5h2M1060 647.5h2M862 671.5h2M42 645.5h3M228 645.5h2M765 645.5h2M927 645.5h3M826 672.5h2M300 635.5h3M306 635.5h2M396 635.5h3M1350 635.5h3M216 648.5h3M771 648.5h2M915 648.5h2M1386 648.5h2M13 634.5h2M312 634.5h3M384 634.5h3M390 634.5h3M741 634.5h2M730 630.5h2M1266 630.5h2M1338 630.5h2M1167 704.5h3M1180 704.5h2M795 658.5h2M1083 658.5h2M288 638.5h2M1036 638.5h2M1296 623.5h3M1302 623.5h3M1308 623.5h3M54 649.5h3M210 649.5h3M1065 649.5h3M831 673.5h3M855 673.5h3M1114 673.5h2M717 624.5h2M1290 624.5h2M1314 624.5h3M646 601.5h2M669 601.5h3M504 725.5h3M516 725.5h3M1144 691.5h2M837 674.5h3M843 674.5h3M849 674.5h3M30 641.5h3M264 641.5h3M754 641.5h2M975 641.5h3M981 641.5h3M1047 641.5h2M711 621.5h2M510 726.5h3M1416 657.5h2M120 651.5h3M126 651.5h3M132 651.5h3M138 651.5h3M144 651.5h3M150 651.5h3M198 651.5h3M777 651.5h3M1393 651.5h2M808 664.5h2M879 664.5h2M1095 664.5h2M1174 706.5h2M270 640.5h3M409 640.5h2M988 640.5h2M993 640.5h3M801 661.5h3M886 661.5h2M1089 661.5h2M820 670.5h2M867 670.5h3M1108 670.5h2M1119 676.5h2M634 607.5h2M687 607.5h2M1278 626.5h3M1185 702.5h2M324 632.5h3M330 632.5h2M360 632.5h3M366 632.5h3M1261 632.5h2M60 650.5h2M204 650.5h3M910 650.5h2M529 720.5h2M1404 654.5h2M706 618.5h2M723 627.5h2M1326 627.5h3M36 643.5h2M240 643.5h3M940 643.5h2M945 643.5h3M897 655.5h3M1077 655.5h2M921 646.5h3M1380 646.5h2M813 667.5h2M874 667.5h2M1101 667.5h2M498 722.5h2M676 603.5h2M1272 628.5h2M1332 628.5h2M1125 679.5h2M652 600.5h2M657 600.5h3M663 600.5h3M681 605.5h3M523 723.5h2M493 719.5h2M639 604.5h2M579.5 664v2M939.5 644v1M332.5 631v1M550.5 701v1M551.5 700v1M1203.5 690v1M1254.5 637v1M1228.5 664v1M48.5 646v1M1340.5 631v1M1231.5 660v1M1249.5 641v1M546.5 706v1M547.5 705v1M1392.5 650v1M522.5 724v1M601.5 639v1M1227.5 665v1M621.5 617v1M645.5 602v1M414.5 642v1M1248.5 642v1M622.5 616v1M545.5 707v1M1268.5 629v1M1334.5 629v1M599.5 641v1M1223.5 670v1M1191.5 699v1M689.5 608v1M1079.5 656v1M725.5 628v1M565.5 681v2M469.5 696v1M1226.5 666v1M1107.5 669v1M767.5 646v1M595.5 645v2M1221.5 672v1M1222.5 671v1M1049.5 642v1M561.5 687v1M422.5 648v1M470.5 697v1M785.5 654v1M1173.5 705v1M480.5 708v1M737.5 632v1M807.5 663v1M534.5 718v1M1035.5 637v1M1113.5 672v1M594.5 647v1M675.5 602v1M555.5 694v2M535.5 717v1M440.5 662v1M486.5 714v1M609.5 629v1M610.5 628v1M1236.5 654v1M475.5 702v2M492.5 718v1M713.5 622v1M1211.5 682v1M471.5 698v1M917.5 647v1M605.5 633v2M651.5 601v1M1232.5 659v1M1091.5 662v1M1209.5 684v1M1210.5 683v1M457.5 680v1M604.5 635v1M487.5 715v1M1217.5 676v1M466.5 692v1M569.5 676v2M881.5 663v1M1137.5 686v1M1364.5 640v1M873.5 668v1M585.5 657v2M2.5 630v1M600.5 640v1M488.5 716v1M627.5 612v1M38.5 644v1M438.5 660v1M584.5 659v1M1358.5 638v1M1187.5 701v1M1422.5 659v1M444.5 666v1M460.5 684v1M188.5 652v1M1133.5 684v1M24.5 638v1M1103.5 668v1M1205.5 688v1M1260.5 633v1M1244.5 646v1M455.5 678v1M892.5 658v1M1059.5 646v1M1127.5 680v1M905.5 652v1M641.5 603v1M456.5 679v1M408.5 639v1M465.5 690v2M825.5 671v1M427.5 652v1M451.5 673v2M616.5 622v1M1242.5 648v1M1005.5 638v1M1243.5 647v1M1157.5 699v1M445.5 667v1M308.5 634v1M1250.5 640v1M559.5 689v1M556.5 693v1M615.5 623v1M446.5 668v1M761.5 643v1M230.5 644v1M987.5 641v1M62.5 651v1M699.5 613v1M719.5 625v1M590.5 651v1M589.5 652v2M1216.5 677v1M705.5 617v1M428.5 653v1M1131.5 682v1M1150.5 695v1M1406.5 655v1M1388.5 649v1M1143.5 690v1M700.5 614v1M729.5 629v1M909.5 651v1M819.5 669v1M461.5 685v2M570.5 675v1M797.5 659v1M402.5 636v1M789.5 655v1M695.5 611v1M1132.5 683v1M1151.5 696v1M284.5 638v1M564.5 683v1M1071.5 651v1M439.5 661v1M701.5 615v1M893.5 657v1M552.5 699v1M885.5 662v1M1204.5 689v1M633.5 608v1M1418.5 658v1M773.5 649v1M617.5 621v1M236.5 643v1M560.5 688v1M1199.5 693v1M1233.5 658v1M748.5 638v1M891.5 659v1M1322.5 626v1M426.5 651v1M749.5 639v1M1344.5 632v1M580.5 663v1M1286.5 624v1M1179.5 705v1M1197.5 695v1M623.5 615v1M1198.5 694v1M450.5 672v1M1255.5 636v1M290.5 637v1M861.5 672v1M743.5 635v1M1368.5 641v1M434.5 657v1M1163.5 702v1M574.5 670v1M1149.5 694v1M575.5 669v1M1097.5 665v1M415.5 643v1M1292.5 623v1M815.5 668v1M573.5 671v1M1121.5 677v1M536.5 716v1M541.5 712v1M1274.5 627v1M542.5 711v1M260.5 641v1M528.5 721v1M1215.5 678v1M747.5 637v1M611.5 627v1M1237.5 653v1M1238.5 652v1M500.5 723v1M540.5 713v1M1011.5 637v1M416.5 644v1M1382.5 647v1M481.5 709v1M476.5 704v1M1085.5 659v1M753.5 640v1M20.5 637v1M12.5 633v1M104.5 652v1M482.5 710v1M1055.5 645v1M1256.5 635v1" fill="none" stroke="#ff0000" stroke-width="1"/>
<line x1="0" y1="790.5" x2="1657" y2="790.5" stroke="#c0c0c0" stroke-width="1" stroke-dasharray="3,3"/>
<line x1="0" y1="841.5" x2="1657" y2="841.5" stroke="#c0c0c0" stroke-width="1" stroke-dasharray="3,3"/>
<line x1="0" y1="902.5" x2="1657" y2="902.5" stroke="#c0c0c0" stroke-width="1" stroke-dasharray="3,3"/>
<path d="M101 840.5h2M105 840.5h3M330 840.5h4M511 840.5h5M524 840.5h4M648 840.5h2M911 840.5h2M938 840.5h2M957 840.5h2M978 840.5h4M1214 840.5h2M1271 840.5h5M15 854.5h13M36 854.5h6M52 854.5h2M794 862.5h4M802 862.5h4M810 862.5h4M817 862.5h3M1084 862.5h2M57 856.5h2M122 856.5h2M745 856.5h3M758 856.5h2M1415 856.5h2M394 861.5h2M768 861.5h2M798 861.5h4M814 861.5h3M1086 861.5h6M553 829.5h3M590 819.5h6M602 819.5h4M609 819.5h3M619 819.5h2M103 839.5h2M180 839.5h2M334 839.5h2M516 839.5h8M982 839.5h6M1212 839.5h2M1298 839.5h2M108 841.5h2M326 841.5h4M509 841.5h2M528 841.5h2M541 841.5h2M646 841.5h2M860 841.5h2M890 841.5h2M909 841.5h2M913 841.5h2M936 841.5h2M959 841.5h19M1269 841.5h2M1276 841.5h6M1359 841.5h2M79 847.5h2M369 847.5h2M1406 847.5h2M426 872.5h2M424 871.5h2M1031 871.5h5M81 848.5h2M90 848.5h2M221 848.5h2M224 848.5h2M253 848.5h2M367 848.5h2M680 848.5h2M1391 848.5h5M1402 848.5h4M28 853.5h8M42 853.5h4M49 853.5h3M83 849.5h2M682 849.5h2M693 849.5h2M696 849.5h2M708 849.5h2M1319 849.5h3M1396 849.5h6M185 836.5h3M196 836.5h2M204 836.5h4M657 836.5h3M948 836.5h4M46 852.5h3M687 852.5h2M701 852.5h2M704 852.5h2M98 842.5h2M110 842.5h2M176 842.5h2M311 842.5h5M322 842.5h4M530 842.5h2M642 842.5h4M727 842.5h9M907 842.5h2M915 842.5h2M1267 842.5h2M1282 842.5h4M1292 842.5h4M1361 842.5h2M74 851.5h2M248 851.5h2M685 851.5h2M689 851.5h2M831 851.5h5M1326 851.5h6M1152 873.5h2M263 828.5h5M276 828.5h5M556 828.5h2M574 828.5h2M268 827.5h8M281 827.5h2M558 827.5h6M570 827.5h4M1183 827.5h2M1196 827.5h2M1230 827.5h10M551 830.5h2M877 831.5h2M183 837.5h2M198 837.5h6M652 837.5h2M660 837.5h2M668 837.5h4M852 837.5h4M943 837.5h5M952 837.5h2M1207 837.5h2M343 833.5h5M874 833.5h2M1307 833.5h2M1044 869.5h8M1058 869.5h4M85 850.5h2M250 850.5h2M691 850.5h2M698 850.5h2M836 850.5h4M1071 850.5h2M1322 850.5h4M1332 850.5h4M336 838.5h2M662 838.5h6M847 838.5h5M856 838.5h2M941 838.5h2M954 838.5h2M988 838.5h12M1209 838.5h3M375 844.5h5M504 844.5h2M533 844.5h2M536 844.5h2M900 844.5h5M1263 844.5h2M1365 844.5h2M410 884.5h4M96 843.5h2M231 843.5h9M316 843.5h6M360 843.5h2M506 843.5h2M538 843.5h2M639 843.5h3M905 843.5h2M917 843.5h2M1265 843.5h2M1286 843.5h6M1363 843.5h2M287 824.5h9M1189 824.5h2M1192 824.5h2M1135 878.5h2M1062 868.5h2M216 845.5h2M228 845.5h2M373 845.5h2M380 845.5h4M895 845.5h5M1133 879.5h2M783 866.5h2M1350 866.5h2M54 855.5h3M69 855.5h2M120 855.5h2M303 855.5h2M743 855.5h2M218 846.5h2M364 846.5h2M371 846.5h2M190 834.5h3M348 834.5h4M872 834.5h2M1305 834.5h2M1128 882.5h2M59 857.5h2M66 857.5h2M748 857.5h2M754 857.5h4M760 857.5h2M1380 857.5h4M1417 857.5h2M470 886.5h2M1111 886.5h2M397 863.5h2M790 863.5h4M806 863.5h4M820 863.5h2M1081 863.5h3M1098 863.5h2M1346 863.5h2M785 865.5h3M1130 881.5h2M1139 876.5h2M588 818.5h2M596 818.5h6M612 818.5h2M617 818.5h2M788 864.5h2M822 864.5h2M1079 864.5h2M285 825.5h2M629 825.5h2M1187 825.5h2M1223 825.5h3M1242 825.5h2M61 858.5h2M64 858.5h2M125 858.5h2M750 858.5h4M773 858.5h2M1375 858.5h5M1419 858.5h2M455 888.5h11M1116 888.5h2M1120 888.5h2M132 860.5h12M392 860.5h2M764 860.5h2M770 860.5h2M1092 860.5h4M167 835.5h2M188 835.5h2M193 835.5h3M340 835.5h2M655 835.5h2M1303 835.5h2M1141 875.5h2M1036 870.5h8M1052 870.5h6M1156 870.5h2M1309 832.5h3M283 826.5h2M564 826.5h6M1185 826.5h2M1226 826.5h4M1240 826.5h2M585 817.5h3M614 817.5h3M429 874.5h2M1143 874.5h9M407 885.5h3M1124 885.5h2M626 823.5h2M1245 823.5h2M624 822.5h2M127 859.5h5M1421 859.5h2M606 820.5h3M621 820.5h2M1137 877.5h2M466 887.5h4M1113 887.5h3M583 816.5h2M1118 889.5h2M414 883.5h2M442 883.5h2M478 893.5h2M1161.5 863v2M1373.5 854v2M827.5 857v2M1103.5 867v2M1385.5 855v1M149.5 869v2M1252.5 829v2M1164.5 856v2M864.5 842v1M1354.5 856v3M475.5 890v1M581.5 819v1M401.5 868v3M487.5 872v2M423.5 870v1M1313.5 835v2M550.5 831v1M226.5 847v1M476.5 891v1M165.5 840v4M162.5 851v4M299.5 839v4M112.5 843v2M257.5 842v2M1077.5 860v2M115.5 848v1M230.5 844v1M1005.5 830v2M1110.5 883v2M545.5 837v2M116.5 849v2M389.5 855v2M356.5 839v1M419.5 876v2M252.5 849v1M1030.5 868v2M830.5 852v2M161.5 855v4M89.5 849v1M484.5 879v3M496.5 855v2M1065.5 863v2M1168.5 848v2M499.5 851v1M842.5 845v2M1388.5 851v1M1106.5 873v3M845.5 841v1M1031.5 870v1M403.5 874v2M1297.5 840v1M1180.5 831v1M1203.5 833v1M1255.5 834v1M9.5 862v1M260.5 834v3M1076.5 858v2M396.5 862v1M879.5 830v1M1027.5 861v3M1256.5 835v1M871.5 835v1M880.5 831v1M302.5 851v4M1175.5 837v1M160.5 859v4M118.5 852v2M483.5 882v3M1312.5 833v2M244.5 849v1M715.5 851v2M1167.5 850v2M1218.5 834v2M677.5 844v2M298.5 835v4M1073.5 852v2M100.5 841v1M119.5 854v1M716.5 853v1M245.5 850v1M301.5 847v4M355.5 838v1M1338.5 854v1M1202.5 832v1M388.5 853v2M887.5 838v1M1171.5 843v2M502.5 846v2M776.5 858v1M407.5 884v1M1339.5 855v1M1132.5 880v1M93.5 846v1M491.5 864v2M1163.5 858v3M12.5 858v1M1345.5 862v1M1102.5 866v1M1301.5 837v1M549.5 832v2M433.5 878v1M402.5 871v3M540.5 842v1M256.5 844v2M434.5 879v1M1244.5 824v1M1064.5 865v2M164.5 844v4M544.5 839v1M1162.5 861v2M1358.5 843v3M868.5 838v1M448.5 880v1M775.5 857v1M1008.5 829v2M243.5 847v2M1109.5 881v2M366.5 847v1M440.5 885v1M406.5 882v2M767.5 862v1M1072.5 851v1M829.5 854v2M1353.5 859v4M169.5 836v1M482.5 885v3M841.5 847v1M1357.5 846v4M175.5 843v1M384.5 846v2M486.5 874v3M214.5 843v1M722.5 850v2M179.5 840v1M417.5 879v2M628.5 824v1M636.5 836v2M1352.5 863v3M72.5 853v1M578.5 823v2M87.5 851v1M650.5 839v1M1217.5 836v2M684.5 850v1M1258.5 838v1M1220.5 830v2M1155.5 871v1M76.5 850v1M673.5 839v2M726.5 843v2M654.5 836v1M447.5 879v1M1075.5 856v2M259.5 837v2M152.5 872v1M498.5 852v2M444.5 882v1M1012.5 835v2M1004.5 832v1M1108.5 878v3M8.5 863v2M490.5 866v2M11.5 859v2M338.5 837v1M307.5 849v1M213.5 842v1M1198.5 828v1M1387.5 852v2M862.5 842v1M297.5 831v4M163.5 848v3M300.5 843v4M779.5 861v2M258.5 839v3M1409.5 849v1M1166.5 852v2M863.5 843v1M1029.5 866v2M710.5 848v1M432.5 876v2M435.5 880v2M1356.5 850v3M930.5 850v2M1410.5 850v1M1174.5 838v2M436.5 882v1M155.5 868v2M303.5 856v1M763.5 859v1M477.5 892v1M892.5 842v1M263.5 829v1M1159.5 867v2M1205.5 835v1M547.5 835v1M1026.5 859v2M703.5 853v1M1311.5 831v1M893.5 843v1M485.5 877v2M714.5 850v1M481.5 888v2M14.5 855v2M1071.5 849v1M399.5 864v2M882.5 833v1M844.5 842v2M1390.5 849v1M342.5 834v1M405.5 879v3M416.5 881v2M1170.5 845v1M1296.5 841v1M428.5 873v1M577.5 825v1M638.5 840v2M357.5 840v1M1318.5 846v2M296.5 827v4M1204.5 834v1M1341.5 857v2M1219.5 832v2M1070.5 851v2M870.5 836v1M1177.5 834v2M725.5 845v2M1028.5 864v2M737.5 845v2M635.5 834v2M1063.5 867v1M1315.5 839v3M1257.5 836v2M1074.5 854v2M492.5 862v2M1025.5 857v2M672.5 838v1M881.5 832v1M721.5 852v2M858.5 839v1M1007.5 828v1M724.5 847v2M95.5 844v1M1111.5 885v1M934.5 843v2M171.5 838v2M451.5 883v2M717.5 854v1M1216.5 838v2M223.5 849v1M246.5 851v1M1123.5 886v1M1355.5 853v3M1002.5 834v1M310.5 843v2M778.5 860v1M227.5 846v1M888.5 839v1M1359.5 842v1M1127.5 883v1M637.5 838v2M166.5 836v4M1182.5 828v1M1317.5 844v2M262.5 830v2M720.5 854v2M480.5 890v3M1340.5 856v1M889.5 840v1M124.5 857v1M956.5 839v1M933.5 845v2M736.5 843v2M147.5 866v2M634.5 832v2M306.5 850v2M1010.5 832v2M1261.5 841v2M695.5 848v1M508.5 842v1M1160.5 865v2M208.5 837v1M826.5 859v1M1014.5 838v2M929.5 852v2M449.5 881v1M501.5 848v1M1173.5 840v2M178.5 841v1M170.5 837v1M450.5 882v1M580.5 820v2M777.5 859v1M1165.5 854v2M78.5 848v1M215.5 844v1M1200.5 830v1M404.5 876v3M1222.5 826v2M1411.5 851v2M1367.5 845v1M71.5 854v1M154.5 870v1M446.5 880v1M1412.5 853v1M63.5 859v1M438.5 884v2M740.5 850v1M1066.5 860v3M1259.5 839v1M1024.5 855v2M400.5 866v2M10.5 861v1M674.5 841v1M1009.5 831v1M1260.5 840v1M1017.5 843v2M495.5 857v1M1001.5 835v2M675.5 842v1M876.5 832v1M352.5 835v1M865.5 841v1M1013.5 837v1M1107.5 876v2M386.5 850v2M1342.5 859v1M922.5 848v2M157.5 866v1M472.5 887v1M546.5 836v1M1343.5 860v1M1316.5 842v2M1100.5 864v1M362.5 844v1M633.5 830v2M739.5 848v2M150.5 871v2M940.5 839v1M928.5 854v2M363.5 845v1M500.5 849v2M1389.5 850v1M846.5 839v2M576.5 826v2M295.5 825v2M261.5 832v2M479.5 894v1M1016.5 841v2M1069.5 853v2M883.5 834v1M932.5 847v2M422.5 871v2M172.5 840v1M452.5 885v1M1384.5 856v1M1199.5 829v1M1020.5 848v1M1176.5 836v1M884.5 835v1M1179.5 832v1M173.5 841v1M453.5 886v1M780.5 863v1M719.5 856v1M1369.5 848v2M772.5 859v1M385.5 848v2M639.5 842v1M1319.5 848v1M825.5 860v2M921.5 847v1M742.5 853v2M305.5 852v2M1370.5 850v1M1248.5 823v2M1068.5 855v3M145.5 863v2M437.5 883v1M494.5 858v2M1206.5 836v1M1249.5 825v1M632.5 828v2M738.5 847v1M1195.5 826v1M13.5 857v1M894.5 844v1M1262.5 843v1M309.5 845v2M1023.5 853v2M1221.5 828v2M859.5 840v1M678.5 846v1M73.5 852v1M210.5 839v1M651.5 838v1M920.5 845v2M255.5 846v2M1300.5 838v1M358.5 841v1M441.5 884v1M924.5 851v2M339.5 836v1M1368.5 846v2M144.5 861v2M741.5 851v2M867.5 839v1M707.5 850v1M1191.5 823v1M1413.5 854v1M1194.5 825v1M840.5 848v2M828.5 856v1M711.5 847v1M723.5 849v1M240.5 844v1M1414.5 855v1M418.5 878v1M421.5 873v2M503.5 845v1M1011.5 834v1M1019.5 846v2M579.5 822v1M88.5 850v1M582.5 817v2M548.5 834v1M247.5 852v1M718.5 855v1M77.5 849v1M92.5 847v1M1349.5 865v1M824.5 862v2M1371.5 851v2M156.5 867v1M700.5 851v1M1247.5 822v1M1372.5 853v1M1250.5 826v2M473.5 888v1M308.5 847v2M148.5 868v1M1251.5 828v1M151.5 873v1M474.5 889v1M1000.5 837v1M7.5 865v1M1022.5 851v2M1348.5 864v1M209.5 838v1M220.5 847v1M1015.5 840v1M114.5 846v2M1018.5 845v1M1067.5 858v2M390.5 857v2M159.5 863v2M182.5 838v1M391.5 859v1M1154.5 872v1M919.5 844v1M1201.5 831v1M532.5 843v1M1158.5 869v1M886.5 837v1M543.5 840v1M489.5 868v2M1105.5 871v2M535.5 845v1M782.5 865v1M1254.5 832v2M1003.5 833v1M923.5 850v1M439.5 886v1M935.5 842v1M631.5 826v2M1101.5 865v1M497.5 854v1M1314.5 837v2M1169.5 846v2M1386.5 854v1M843.5 844v1M1181.5 829v2M1021.5 849v2M68.5 856v1M676.5 843v1M353.5 836v1M931.5 849v1M354.5 837v1M1337.5 852v2M493.5 860v2M387.5 852v1M1374.5 856v2M304.5 854v1M885.5 836v1M454.5 887v1M926.5 854v2M781.5 864v1M1344.5 861v1M1104.5 869v2M866.5 840v1M927.5 856v1M146.5 865v1M1006.5 829v1M94.5 845v1M1078.5 862v2M1302.5 836v1M1122.5 887v1M766.5 861v1M1178.5 833v1M623.5 821v1M113.5 845v1M488.5 870v2M1096.5 861v1M679.5 847v1M174.5 842v1M869.5 837v1M1097.5 862v1M359.5 842v1M420.5 875v1M706.5 851v1M431.5 875v1M1253.5 831v1M762.5 858v1M1172.5 842v1M1126.5 884v1M712.5 848v1M241.5 845v1M1423.5 860v1M167.5 834v1M158.5 865v1M713.5 849v1M242.5 846v1M211.5 840v1M117.5 851v1M1351.5 867v1M212.5 841v1M153.5 871v1M925.5 853v1M1336.5 851v1M445.5 881v1M1408.5 848v1" fill="none" stroke="#1e90ff" stroke-width="1"/>
<rect x="0" y="27" width="1658" height="1" fill="#000"/>
<rect x="0" y="580" width="1658" height="1" fill="#000"/>
<rect x="0" y="582" width="1658" height="1" fill="#000"/>
<rect x="0" y="752" width="1658" height="1" fill="#000"/>
<rect x="0" y="754" width="1658" height="1" fill="#000"/>
<rect x="0" y="928" width="1658" height="1" fill="#000"/>
<rect x="1657" y="27" width="1" height="554" fill="#000"/>
<rect x="1657" y="582" width="1" height="171" fill="#000"/>
<rect x="1657" y="754" width="1" height="175" fill="#000"/>
<rect x="1703" y="25" width="1" height="919" fill="#d9d9d9"/>
<rect x="1658" y="49" width="2" height="1" fill="#000"/>
<rect x="1658" y="82" width="2" height="1" fill="#000"/>
<rect x="1658" y="115" width="2" height="1" fill="#000"/>
<rect x="1658" y="148" width="2" height="1" fill="#000"/>
<rect x="1658" y="181" width="2" height="1" fill="#000"/>
<rect x="1658" y="214" width="2" height="1" fill="#000"/>
<rect x="1658" y="247" width="2" height="1" fill="#000"/>
<rect x="1658" y="280" width="2" height="1" fill="#000"/>
<rect x="1658" y="313" width="2" height="1" fill="#000"/>
<rect x="1658" y="346" width="2" height="1" fill="#000"/>
<rect x="1658" y="379" width="2" height="1" fill="#000"/>
<rect x="1658" y="412" width="2" height="1" fill="#000"/>
<rect x="1658" y="445" width="2" height="1" fill="#000"/>
<rect x="1658" y="478" width="2" height="1" fill="#000"/>
<rect x="1658" y="511" width="2" height="1" fill="#000"/>
<rect x="1658" y="544" width="2" height="1" fill="#000"/>
<rect x="1658" y="577" width="2" height="1" fill="#000"/>
<rect x="1658" y="583" width="2" height="1" fill="#000"/>
<rect x="1658" y="637" width="2" height="1" fill="#000"/>
<rect x="1658" y="751" width="2" height="1" fill="#000"/>
<rect x="1658" y="755" width="2" height="1" fill="#000"/>
<rect x="1658" y="790" width="2" height="1" fill="#000"/>
<rect x="1658" y="841" width="2" height="1" fill="#000"/>
<rect x="1658" y="902" width="2" height="1" fill="#000"/>
<rect x="1658" y="927" width="2" height="1" fill="#000"/>
<rect x="63" y="929" width="1" height="3" fill="#000"/>
<rect x="127" y="929" width="1" height="3" fill="#000"/>
<rect x="191" y="929" width="1" height="3" fill="#000"/>
<rect x="255" y="929" width="1" height="3" fill="#000"/>
<rect x="319" y="929" width="1" height="3" fill="#000"/>
<rect x="383" y="929" width="1" height="3" fill="#000"/>
<rect x="447" y="929" width="1" height="3" fill="#000"/>
<rect x="511" y="929" width="1" height="3" fill="#000"/>
<rect x="575" y="929" width="1" height="3" fill="#000"/>
<rect x="639" y="929" width="1" height="3" fill="#000"/>
<rect x="703" y="929" width="1" height="3" fill="#000"/>
<rect x="767" y="929" width="1" height="3" fill="#000"/>
<rect x="831" y="929" width="1" height="3" fill="#000"/>
<rect x="895" y="929" width="1" height="3" fill="#000"/>
<rect x="959" y="929" width="1" height="3" fill="#000"/>
<rect x="1023" y="929" width="1" height="3" fill="#000"/>
<rect x="1087" y="929" width="1" height="3" fill="#000"/>
<rect x="1151" y="929" width="1" height="3" fill="#000"/>
<rect x="1215" y="929" width="1" height="3" fill="#000"/>
<rect x="1279" y="929" width="1" height="3" fill="#000"/>
<rect x="1343" y="929" width="1" height="3" fill="#000"/>
<rect x="1407" y="929" width="1" height="3" fill="#000"/>
</g>
<text x="1663.5" y="52.7" font-size="9.6" fill="#000" text-anchor="start" textLength="32.8" lengthAdjust="spacingAndGlyphs">155.525</text>
<text x="1663.5" y="85.7" font-size="9.6" fill="#000" text-anchor="start" textLength="32.8" lengthAdjust="spacingAndGlyphs">155.215</text>
<text x="1663.5" y="118.7" font-size="9.6" fill="#000" text-anchor="start" textLength="32.8" lengthAdjust="spacingAndGlyphs">154.905</text>
<text x="1663.5" y="151.7" font-size="9.6" fill="#000" text-anchor="start" textLength="32.8" lengthAdjust="spacingAndGlyphs">154.590</text>
<text x="1663.5" y="184.7" font-size="9.6" fill="#000" text-anchor="start" textLength="32.8" lengthAdjust="spacingAndGlyphs">154.280</text>
<text x="1663.5" y="217.7" font-size="9.6" fill="#000" text-anchor="start" textLength="32.8" lengthAdjust="spacingAndGlyphs">153.970</text>
<text x="1663.5" y="250.7" font-size="9.6" fill="#000" text-anchor="start" textLength="32.8" lengthAdjust="spacingAndGlyphs">153.660</text>
<text x="1663.5" y="283.7" font-size="9.6" fill="#000" text-anchor="start" textLength="32.8" lengthAdjust="spacingAndGlyphs">153.350</text>
<text x="1663.5" y="316.7" font-size="9.6" fill="#000" text-anchor="start" textLength="32.8" lengthAdjust="spacingAndGlyphs">153.040</text>
<text x="1663.5" y="349.7" font-size="9.6" fill="#000" text-anchor="start" textLength="32.8" lengthAdjust="spacingAndGlyphs">152.725</text>
<text x="1663.5" y="382.7" font-size="9.6" fill="#000" text-anchor="start" textLength="32.8" lengthAdjust="spacingAndGlyphs">152.415</text>
<text x="1663.5" y="415.7" font-size="9.6" fill="#000" text-anchor="start" textLength="32.8" lengthAdjust="spacingAndGlyphs">152.105</text>
<text x="1663.5" y="448.7" font-size="9.6" fill="#000" text-anchor="start" textLength="32.8" lengthAdjust="spacingAndGlyphs">151.795</text>
<text x="1663.5" y="481.7" font-size="9.6" fill="#000" text-anchor="start" textLength="32.8" lengthAdjust="spacingAndGlyphs">151.485</text>
<text x="1663.5" y="514.7" font-size="9.6" fill="#000" text-anchor="start" textLength="32.8" lengthAdjust="spacingAndGlyphs">151.170</text>
<text x="1663.5" y="547.7" font-size="9.6" fill="#000" text-anchor="start" textLength="32.8" lengthAdjust="spacingAndGlyphs">150.860</text>
<text x="1663.5" y="580.7" font-size="9.6" fill="#000" text-anchor="start" textLength="32.8" lengthAdjust="spacingAndGlyphs">150.550</text>
<text x="1661" y="593.2" font-size="9.6" fill="#000" text-anchor="start" textLength="28.6" lengthAdjust="spacingAndGlyphs">0.3852</text>
<text x="1664" y="640.8" font-size="9.6" fill="#000" text-anchor="start" textLength="18.2" lengthAdjust="spacingAndGlyphs">0.00</text>
<text x="1661" y="748.5" font-size="9.6" fill="#000" text-anchor="start" textLength="26.7" lengthAdjust="spacingAndGlyphs">-0.828</text>
<text x="1661" y="765" font-size="9.6" fill="#000" text-anchor="start" textLength="15.6" lengthAdjust="spacingAndGlyphs">100</text>
<text x="1661" y="794.2" font-size="9.6" fill="#000" text-anchor="start" textLength="10.4" lengthAdjust="spacingAndGlyphs">80</text>
<text x="1661" y="845.2" font-size="9.6" fill="#000" text-anchor="start" textLength="10.4" lengthAdjust="spacingAndGlyphs">50</text>
<text x="1661" y="906.2" font-size="9.6" fill="#000" text-anchor="start" textLength="10.4" lengthAdjust="spacingAndGlyphs">15</text>
<text x="1661" y="924.2" font-size="9.6" fill="#000" text-anchor="start" textLength="5.2" lengthAdjust="spacingAndGlyphs">0</text>
<rect x="1659" y="405" width="41" height="11" fill="#ff0000" shape-rendering="crispEdges"/><text x="1663.5" y="414.4" font-size="9.6" fill="#fff" text-anchor="start" textLength="32.8" lengthAdjust="spacingAndGlyphs">152.119</text>
<rect x="1659" y="427" width="41" height="11" fill="#ff0000" shape-rendering="crispEdges"/><text x="1663.5" y="436.4" font-size="9.6" fill="#fff" text-anchor="start" textLength="32.8" lengthAdjust="spacingAndGlyphs">151.912</text>
<rect x="1659" y="451" width="41" height="11" fill="#32cd32" shape-rendering="crispEdges"/><text x="1663.5" y="460.4" font-size="9.6" fill="#fff" text-anchor="start" textLength="32.8" lengthAdjust="spacingAndGlyphs">151.686</text>
<rect x="1659" y="484" width="41" height="11" fill="#0000ff" shape-rendering="crispEdges"/><text x="1663.5" y="493.4" font-size="9.6" fill="#fff" text-anchor="start" textLength="32.8" lengthAdjust="spacingAndGlyphs">151.372</text>
<rect x="1659" y="505" width="41" height="11" fill="#0000ff" shape-rendering="crispEdges"/><text x="1663.5" y="514.4" font-size="9.6" fill="#fff" text-anchor="start" textLength="32.8" lengthAdjust="spacingAndGlyphs">151.179</text>
<rect x="1659" y="468" width="41" height="11" fill="#000000" shape-rendering="crispEdges"/><text x="1663.5" y="477.4" font-size="9.6" fill="#fff" text-anchor="start" textLength="32.8" lengthAdjust="spacingAndGlyphs">151.532</text>
<text x="42.5" y="941" font-size="10" fill="#000" text-anchor="end" textLength="46.2" lengthAdjust="spacingAndGlyphs">7 Jun 2021</text>
<text x="62" y="941" font-size="10" fill="#000" text-anchor="start" textLength="49.2" lengthAdjust="spacingAndGlyphs">8 Jun 08:00</text>
<text x="126" y="941" font-size="10" fill="#000" text-anchor="start" textLength="49.2" lengthAdjust="spacingAndGlyphs">9 Jun 16:00</text>
<text x="190" y="941" font-size="10" fill="#000" text-anchor="start" textLength="54.4" lengthAdjust="spacingAndGlyphs">11 Jun 00:00</text>
<text x="254" y="941" font-size="10" fill="#000" text-anchor="start" textLength="54.4" lengthAdjust="spacingAndGlyphs">14 Jun 08:00</text>
<text x="318" y="941" font-size="10" fill="#000" text-anchor="start" textLength="54.4" lengthAdjust="spacingAndGlyphs">15 Jun 16:00</text>
<text x="382" y="941" font-size="10" fill="#000" text-anchor="start" textLength="54.4" lengthAdjust="spacingAndGlyphs">17 Jun 00:00</text>
<text x="446" y="941" font-size="10" fill="#000" text-anchor="start" textLength="54.4" lengthAdjust="spacingAndGlyphs">18 Jun 08:00</text>
<text x="510" y="941" font-size="10" fill="#000" text-anchor="start" textLength="54.4" lengthAdjust="spacingAndGlyphs">21 Jun 16:00</text>
<text x="574" y="941" font-size="10" fill="#000" text-anchor="start" textLength="54.4" lengthAdjust="spacingAndGlyphs">23 Jun 00:00</text>
<text x="638" y="941" font-size="10" fill="#000" text-anchor="start" textLength="54.4" lengthAdjust="spacingAndGlyphs">24 Jun 08:00</text>
<text x="702" y="941" font-size="10" fill="#000" text-anchor="start" textLength="54.4" lengthAdjust="spacingAndGlyphs">25 Jun 16:00</text>
<text x="766" y="941" font-size="10" fill="#000" text-anchor="start" textLength="54.4" lengthAdjust="spacingAndGlyphs">29 Jun 00:00</text>
<text x="830" y="941" font-size="10" fill="#000" text-anchor="start" textLength="54.4" lengthAdjust="spacingAndGlyphs">30 Jun 08:00</text>
<text x="894" y="941" font-size="10" fill="#000" text-anchor="start" textLength="46.2" lengthAdjust="spacingAndGlyphs">1 Jul 16:00</text>
<text x="958" y="941" font-size="10" fill="#000" text-anchor="start" textLength="46.2" lengthAdjust="spacingAndGlyphs">5 Jul 00:00</text>
<text x="1022" y="941" font-size="10" fill="#000" text-anchor="start" textLength="46.2" lengthAdjust="spacingAndGlyphs">6 Jul 08:00</text>
<text x="1086" y="941" font-size="10" fill="#000" text-anchor="start" textLength="46.2" lengthAdjust="spacingAndGlyphs">7 Jul 16:00</text>
<text x="1150" y="941" font-size="10" fill="#000" text-anchor="start" textLength="46.2" lengthAdjust="spacingAndGlyphs">9 Jul 00:00</text>
<text x="1214" y="941" font-size="10" fill="#000" text-anchor="start" textLength="51.4" lengthAdjust="spacingAndGlyphs">12 Jul 08:00</text>
<text x="1278" y="941" font-size="10" fill="#000" text-anchor="start" textLength="51.4" lengthAdjust="spacingAndGlyphs">13 Jul 16:00</text>
<text x="1342" y="941" font-size="10" fill="#000" text-anchor="start" textLength="51.4" lengthAdjust="spacingAndGlyphs">15 Jul 00:00</text>
<text x="1406" y="941" font-size="10" fill="#000" text-anchor="start" textLength="51.4" lengthAdjust="spacingAndGlyphs">16 Jul 08:00</text>
<text x="3" y="595" font-size="10" fill="#000" text-anchor="start" textLength="134" lengthAdjust="spacingAndGlyphs">MACD(12,26,9) -0.2236 -0.1682</text>
<text x="3" y="767" font-size="10" fill="#000" text-anchor="start" textLength="68" lengthAdjust="spacingAndGlyphs">RSI(14) 39.0779</text>
<polygon points="2,38 9,38 5.5,34" fill="#000"/>
<text x="14" y="39.2" font-size="10" fill="#000" text-anchor="start" textLength="200" lengthAdjust="spacingAndGlyphs" xml:space="preserve">GBPJPY-,H4  151.782 151.832 151.508 151.532</text>

<defs>
<linearGradient id="gr1" x1="0" y1="0" x2="0" y2="1"><stop offset="0" stop-color="#f25656"/><stop offset="1" stop-color="#d92626"/></linearGradient>
<linearGradient id="gr2" x1="0" y1="0" x2="0" y2="1"><stop offset="0" stop-color="#d62424"/><stop offset="1" stop-color="#b00808"/></linearGradient>
<linearGradient id="gb" x1="0" y1="0" x2="0" y2="1"><stop offset="0" stop-color="#f4f4f4"/><stop offset="1" stop-color="#c8c8c8"/></linearGradient>
</defs>
 <g>
<rect x="0" y="46" width="223" height="60" fill="#fff"/><rect x="0" y="106" width="2" height="5" fill="#000"/>
<rect x="2.5" y="47.5" width="51" height="24" fill="url(#gr1)" stroke="#c01010" stroke-width="1"/>
<rect x="169.5" y="47.5" width="51" height="24" fill="url(#gr1)" stroke="#c01010" stroke-width="1"/>
<rect x="2" y="71" width="109" height="33" fill="url(#gr2)"/>
<rect x="113" y="71" width="108" height="33" fill="url(#gr2)"/>
<rect x="6" y="70" width="44" height="1" fill="#b01010"/>
<rect x="173" y="70" width="44" height="1" fill="#b01010"/>
<rect x="56.5" y="47.5" width="110" height="21" fill="#fff" stroke="#b8b8c0" stroke-width="1"/>
<rect x="58" y="49" width="18.5" height="18" fill="url(#gb)" stroke="#c8c8c8" stroke-width="1"/>
<rect x="146.5" y="49" width="18.5" height="18" fill="url(#gb)" stroke="#c8c8c8" stroke-width="1"/>
<polygon points="64,56 70,56 67,59.5" fill="#4a5cc0"/>
<polygon points="152.5,59.5 158.5,59.5 155.5,56" fill="#4a5cc0"/>
<text x="142.3" y="61.5" font-size="12.5" text-anchor="end" fill="#000">1.00</text>
<text x="27" y="62.6" font-size="12" text-anchor="middle" fill="#fff" textLength="26" lengthAdjust="spacingAndGlyphs">SELL</text>
<text x="194.5" y="62.6" font-size="12" text-anchor="middle" fill="#fff" textLength="24" lengthAdjust="spacingAndGlyphs">BUY</text>
<text x="25" y="99" font-size="12" font-weight="bold" fill="#fff" textLength="20" lengthAdjust="spacingAndGlyphs">151</text>
<text x="50.5" y="98.3" font-size="33" fill="#fff" textLength="33.5" lengthAdjust="spacingAndGlyphs">53</text>
<text x="90" y="83" font-size="12" font-weight="bold" fill="#fff">2</text>
<text x="135" y="99" font-size="12" font-weight="bold" fill="#fff" textLength="20" lengthAdjust="spacingAndGlyphs">151</text>
<text x="161.5" y="98.3" font-size="33" fill="#fff" textLength="33.5" lengthAdjust="spacingAndGlyphs">57</text>
<text x="200.5" y="83" font-size="12" font-weight="bold" fill="#fff">1</text>
</g>

<defs>
<linearGradient id="gplus" x1="0" y1="0" x2="1" y2="1"><stop offset="0" stop-color="#7dff7d"/><stop offset="1" stop-color="#00a000"/></linearGradient>
<linearGradient id="gbook" x1="0" y1="0" x2="1" y2="1"><stop offset="0" stop-color="#f7d23a"/><stop offset="1" stop-color="#b07a14"/></linearGradient>
<linearGradient id="gsrv" x1="0" y1="0" x2="1" y2="0"><stop offset="0" stop-color="#1e78f0"/><stop offset="1" stop-color="#6ab4ff"/></linearGradient>
<radialGradient id="glens" cx="0.4" cy="0.4" r="0.7"><stop offset="0" stop-color="#e8f4ff"/><stop offset="1" stop-color="#9cc4f0"/></radialGradient>
<linearGradient id="ghat" x1="0" y1="0" x2="0" y2="1"><stop offset="0" stop-color="#7cc0ee"/><stop offset="1" stop-color="#3a88cc"/></linearGradient>
<linearGradient id="gfun" x1="0" y1="0" x2="1" y2="1"><stop offset="0" stop-color="#fff080"/><stop offset="1" stop-color="#e0a020"/></linearGradient>
<linearGradient id="gclk" x1="0" y1="0" x2="0" y2="1"><stop offset="0" stop-color="#4a9cf0"/><stop offset="1" stop-color="#0a50b8"/></linearGradient>
</defs>
<g id="toolbar">
<rect x="0" y="0" width="1704" height="22" fill="#f0f0f0"/>
<rect x="0" y="22" width="1704" height="1" fill="#dcdcdc"/>
<rect x="0" y="23" width="1704" height="1" fill="#a0a0a0"/>
<rect x="0" y="24" width="1704" height="1" fill="#696969"/>
<rect x="0" y="25" width="1704" height="2" fill="#ffffff"/>
<!-- print preview (partial) -->
<rect x="-3" y="3.5" width="8.5" height="13" fill="#e4e4e4" stroke="#a8a8a8" stroke-width="1"/>
<circle cx="1.5" cy="11.5" r="5.5" fill="url(#glens)" fill-opacity="0.85" stroke="#7fa8e0" stroke-width="1.2"/>
<line x1="6" y1="15.5" x2="10" y2="19.5" stroke="#c8a030" stroke-width="3" stroke-linecap="round"/>
<rect x="5.5" y="18.5" width="2" height="2" fill="#203080" transform="rotate(45 6.5 19.5)"/>
<!-- separators -->
<g fill="#a8a8a8">
<rect x="18" y="0" width="1" height="21"/>
<rect x="254" y="0" width="1" height="22"/>
<rect x="292" y="1" width="1" height="20"/>
<rect x="349" y="1" width="1" height="20"/>
<rect x="439" y="1" width="1" height="20"/>
<rect x="472" y="1" width="1" height="20"/>
<rect x="501" y="1" width="1" height="20"/>
<rect x="622" y="0" width="1" height="22"/>
<rect x="632" y="1" width="1" height="20"/>
<rect x="689" y="1" width="1" height="20"/>
<rect x="928" y="0" width="1" height="22"/>
<rect x="1079" y="1" width="1" height="20"/>
<rect x="1189" y="0" width="1" height="22"/>
</g>
<g fill="#ffffff"><rect x="255" y="0" width="1" height="22"/><rect x="623" y="0" width="1" height="22"/><rect x="929" y="0" width="1" height="22"/></g>
<!-- grips -->
<g fill="#a8a8a8">
<rect x="258" y="2" width="3" height="1"/><rect x="258" y="4" width="3" height="1"/><rect x="258" y="6" width="3" height="1"/><rect x="258" y="8" width="3" height="1"/><rect x="258" y="10" width="3" height="1"/><rect x="258" y="12" width="3" height="1"/><rect x="258" y="14" width="3" height="1"/><rect x="258" y="16" width="3" height="1"/><rect x="258" y="18" width="3" height="1"/><rect x="258" y="20" width="3" height="1"/><rect x="626" y="2" width="3" height="1"/><rect x="626" y="4" width="3" height="1"/><rect x="626" y="6" width="3" height="1"/><rect x="626" y="8" width="3" height="1"/><rect x="626" y="10" width="3" height="1"/><rect x="626" y="12" width="3" height="1"/><rect x="626" y="14" width="3" height="1"/><rect x="626" y="16" width="3" height="1"/><rect x="626" y="18" width="3" height="1"/><rect x="626" y="20" width="3" height="1"/><rect x="932" y="2" width="3" height="1"/><rect x="932" y="4" width="3" height="1"/><rect x="932" y="6" width="3" height="1"/><rect x="932" y="8" width="3" height="1"/><rect x="932" y="10" width="3" height="1"/><rect x="932" y="12" width="3" height="1"/><rect x="932" y="14" width="3" height="1"/><rect x="932" y="16" width="3" height="1"/><rect x="932" y="18" width="3" height="1"/><rect x="932" y="20" width="3" height="1"/>
</g>
<!-- new order -->
<path d="M28.5 4.5 h7.5 l3.5 3.5 v8.5 h-11 z" fill="#fff" stroke="#808080" stroke-width="1"/>
<path d="M36 4.5 v3.5 h3.5" fill="#e8e8e8" stroke="#808080" stroke-width="1"/>
<rect x="30.5" y="5.5" width="2.5" height="1.2" fill="#606060"/>
<rect x="30.5" y="8.5" width="6" height="1" fill="#a0a0a0"/><rect x="30.5" y="10.5" width="4" height="1" fill="#a0a0a0"/><rect x="30.5" y="12.5" width="3" height="1" fill="#a0a0a0"/>
<path d="M36 9.5 h4 v3.7 h3.7 v4 h-3.7 v3.7 h-4 v-3.7 h-3.7 v-4 h3.7 z" fill="url(#gplus)" stroke="#109010" stroke-width="0.8"/>
<text x="46.5" y="15" font-size="12" fill="#000">新订单</text>
<!-- book -->
<path d="M100.5 4 L110.8 11.3 L103 18.8 L95 12.8 Z" fill="url(#gbook)" stroke="#a87410" stroke-width="0.8"/>
<path d="M95 12.8 L103 18.8 L110.8 11.3 L110.8 13 L103.2 20 L95 14.2 Z" fill="#c89428" stroke="#9a6a10" stroke-width="0.5"/>
<path d="M100.5 5.2 L97 12.6" stroke="#fff2a0" stroke-width="1" fill="none" opacity="0.8"/>
<!-- server+cloud -->
<path d="M125 4.5 l3 -1.5 h8 v9.5 h-11 z" fill="url(#gsrv)" stroke="#1860d0" stroke-width="0.6"/>
<rect x="129.5" y="6.5" width="5.5" height="2" fill="#d8ecff"/>
<path d="M126 19 a3.2 3.2 0 0 1 0.8 -6.2 a4 4 0 0 1 7.2 -0.6 a3.4 3.4 0 0 1 2.6 6.8 z" fill="#f4f8ff" stroke="#6f8fc8" stroke-width="1"/>
<!-- signal -->
<g fill="none" stroke-width="1.3">
<circle cx="159" cy="11" r="8" stroke="#b9c8e6"/>
<circle cx="159" cy="11" r="5.5" stroke="#8fa6d8"/>
<circle cx="159" cy="11" r="3" stroke="#5f80cc"/>
<path d="M159 19 a8 8 0 0 0 8 -8" stroke="#8cc88c"/>
<path d="M159 16.5 a5.5 5.5 0 0 0 5.5 -5.5" stroke="#6ab86a"/>
</g>
<circle cx="159" cy="11" r="1.5" fill="#3060c8"/>
<rect x="158.3" y="11" width="1.6" height="8" fill="#20a020"/>
<!-- autotrading -->
<path d="M179 9.5 L193 9.5 L188 18 L185.5 18.8 Z" fill="url(#gfun)" stroke="#d09820" stroke-width="0.6"/>
<ellipse cx="186" cy="8" rx="7.8" ry="2.6" fill="url(#ghat)" stroke="#3878b8" stroke-width="0.6"/>
<ellipse cx="186" cy="5.8" rx="4" ry="2.8" fill="#5aa8e0" stroke="#3878b8" stroke-width="0.5"/>
<circle cx="190.5" cy="14.6" r="4" fill="#e02010" stroke="#b01008" stroke-width="0.6"/>
<rect x="189" y="13.1" width="3" height="3" fill="#fff"/>
<text x="199.5" y="15" font-size="12" fill="#000">自动交易</text>
<rect x="293" y="0" width="24" height="21" fill="#f8f8f8"/>
<rect x="445" y="0" width="25" height="21" fill="#f8f8f8"/>
<rect x="473" y="0" width="24.5" height="21" fill="#f8f8f8"/>
<rect x="633" y="0" width="24" height="21" fill="#f8f8f8"/>
<rect x="1080" y="0" width="23" height="21" fill="#f8f8f8"/>
<rect x="444" y="1" width="1" height="20" fill="#a8a8a8"/>
<path d="M272.5 19 V5.5 M270.0 16.5 H283.2" stroke="#555" stroke-width="1.2" fill="none"/><path d="M272.5 5 l-1.8 2.6 h3.6 z M284.0 16.5 l-2.6 -1.8 v3.6 z" fill="#555"/>
<path d="M278.7 6.6 V14 M278.7 7.3 H281 M276 13.6 H278.7" stroke="#109010" stroke-width="1.5" fill="none"/>
<path d="M300.5 19 V5.5 M298.0 16.5 H311.2" stroke="#555" stroke-width="1.2" fill="none"/><path d="M300.5 5 l-1.8 2.6 h3.6 z M312.0 16.5 l-2.6 -1.8 v3.6 z" fill="#555"/>
<rect x="306" y="3" width="1.2" height="11.5" fill="#109010"/><rect x="304.3" y="5.3" width="4.6" height="7" fill="#38e058" stroke="#109010" stroke-width="0.9"/>
<path d="M328.5 19 V5.5 M326.0 16.5 H339.2" stroke="#555" stroke-width="1.2" fill="none"/><path d="M328.5 5 l-1.8 2.6 h3.6 z M340.0 16.5 l-2.6 -1.8 v3.6 z" fill="#555"/>
<path d="M327.1 13.6 C329.5 12.5 331 7.9 333.3 7.9 C335.5 7.9 336.5 11 338.6 11.9" stroke="#209020" stroke-width="1.4" fill="none"/>
<line x1="368.7" y1="13.2" x2="373.1" y2="17.4" stroke="#d8b428" stroke-width="3" stroke-linecap="round"/><line x1="369.7" y1="12.4" x2="374.1" y2="16.6" stroke="#a88410" stroke-width="0.6"/><circle cx="364.1" cy="8.8" r="5.4" fill="#d4e8fb" stroke="#3878d0" stroke-width="1.2"/><rect x="360.9" y="8" width="6.4" height="1.8" fill="#3a78c8"/><rect x="363.2" y="5.6" width="1.8" height="6.4" fill="#3a78c8"/>
<line x1="396.7" y1="13.2" x2="401.1" y2="17.4" stroke="#d8b428" stroke-width="3" stroke-linecap="round"/><line x1="397.7" y1="12.4" x2="402.1" y2="16.6" stroke="#a88410" stroke-width="0.6"/><circle cx="392.1" cy="8.8" r="5.4" fill="#d4e8fb" stroke="#3878d0" stroke-width="1.2"/><rect x="388.9" y="8" width="6.4" height="1.8" fill="#3a78c8"/>
<rect x="414.2" y="3.3" width="7.6" height="7.4" rx="0.8" fill="#3ea020"/><rect x="415.4" y="5.9" width="5.2" height="3.6" fill="#fff" opacity="0.92"/><rect x="416.2" y="7.3" width="3.6" height="0.9" fill="#9fd080"/>
<rect x="422.3" y="3.3" width="7.6" height="7.4" rx="0.8" fill="#1c50d0"/><rect x="423.5" y="5.9" width="5.2" height="3.6" fill="#fff" opacity="0.92"/><rect x="424.3" y="7.3" width="3.6" height="0.9" fill="#90b0f0"/>
<rect x="414.2" y="11.2" width="7.6" height="7.4" rx="0.8" fill="#1c50d0"/><rect x="415.4" y="13.8" width="5.2" height="3.6" fill="#fff" opacity="0.92"/><rect x="416.2" y="15.2" width="3.6" height="0.9" fill="#90b0f0"/>
<rect x="422.3" y="11.2" width="7.6" height="7.4" rx="0.8" fill="#3ea020"/><rect x="423.5" y="13.8" width="5.2" height="3.6" fill="#fff" opacity="0.92"/><rect x="424.3" y="15.2" width="3.6" height="0.9" fill="#9fd080"/>
<path d="M452.5 19 V5.5 M450.0 16.5 H463.2" stroke="#555" stroke-width="1.2" fill="none"/><path d="M452.5 5 l-1.8 2.6 h3.6 z M464.0 16.5 l-2.6 -1.8 v3.6 z" fill="#555"/>
<path d="M457.3 7.2 L461 10.6 L457.3 14 Z" fill="#7be07b" stroke="#189018" stroke-width="1"/>
<path d="M480.5 19 V5.5 M478.0 16.5 H491.2" stroke="#555" stroke-width="1.2" fill="none"/><path d="M480.5 5 l-1.8 2.6 h3.6 z M492.0 16.5 l-2.6 -1.8 v3.6 z" fill="#555"/>
<rect x="485.8" y="5.3" width="1.3" height="9.7" fill="#2070a8"/><path d="M487.2 10.6 H492" stroke="#e04800" stroke-width="1.2"/><path d="M487.2 10.6 l3 -2.4 v4.8 z" fill="#e04800"/>
<path d="M511.5 4 h7 l3.5 3.5 v8.5 h-10.5 z" fill="#fff" stroke="#808080" stroke-width="1"/><path d="M518.5 4 v3.5 h3.5" fill="#e8e8e8" stroke="#808080" stroke-width="1"/>
<text x="513" y="13" font-size="8" fill="#555" font-style="italic">f</text>
<path d="M519 10 h4 v3.5 h3.7 v4 h-3.7 v3.5 h-4 v-3.5 h-3.7 v-4 h3.7 z" fill="url(#gplus)" stroke="#109010" stroke-width="0.8"/>
<path d="M533.0 10 h5.4 l-2.7 3.2 z" fill="#000"/>
<path d="M571.8 10 h5.4 l-2.7 3.2 z" fill="#000"/>
<path d="M610.8 10 h5.4 l-2.7 3.2 z" fill="#000"/>
<path d="M916.8 10 h5.4 l-2.7 3.2 z" fill="#000"/>
<circle cx="557.2" cy="11" r="7.2" fill="#f4f8ff" stroke="url(#gclk)" stroke-width="2.4"/><path d="M557.2 6.5 V11 H560.5" stroke="#303030" stroke-width="1.2" fill="none"/>
<rect x="588.7" y="4.5" width="14.8" height="13" fill="#fff" stroke="#3a78c8" stroke-width="1"/><rect x="589.2" y="5" width="13.8" height="2" fill="#9cc4f4"/><rect x="589.2" y="12" width="13.8" height="0.9" fill="#3a78c8"/>
<path d="M590.5 10.5 l2 0 l2 -1.6 l2 0.8 l2 -1 l2.5 0" stroke="#a02010" stroke-width="1.2" fill="none"/><path d="M590.5 15.8 l2 -0.2 l2 -1.2 l2 0.8 l2 -1.6 l2.5 1.8" stroke="#189018" stroke-width="1.2" fill="none"/>
<path d="M639.9 4 V14.8 L642.7 12.4 L645.2 17.8 L647.1 16.9 L644.7 11.8 L648.4 11.5 Z" fill="#505050"/>
<path d="M665 11.4 H670.8 M674.2 11.4 H680 M672.5 4 V9.7 M672.5 13.1 V19" stroke="#606060" stroke-width="1.2" fill="none"/><rect x="672" y="10.9" width="1" height="1" fill="#606060"/>
<rect x="705.9" y="4.8" width="1.3" height="13.2" fill="#505050"/><rect x="729.2" y="10.8" width="11.8" height="1.3" fill="#505050"/><line x1="756.9" y1="18" x2="768.8" y2="6" stroke="#505050" stroke-width="1.2"/>
<g stroke="#505050" stroke-width="1" fill="none"><path d="M783.5 12.5 L794.5 3.5 M787.5 17.5 L798.5 8.5 M786.3 8 L788.3 16.5 M789.8 5.5 L791.8 14 M793.3 3.2 L795.3 11.5"/></g>
<text x="793.8" y="19.8" font-size="6.5" font-weight="bold" fill="#404040">E</text>
<line x1="812" y1="4.4" x2="825" y2="4.4" stroke="#505050" stroke-width="1" stroke-dasharray="1,1"/>
<line x1="812" y1="7.5" x2="825" y2="7.5" stroke="#505050" stroke-width="1" stroke-dasharray="1,1"/>
<line x1="812" y1="11.4" x2="825" y2="11.4" stroke="#505050" stroke-width="1" stroke-dasharray="1,1"/>
<line x1="812" y1="15.7" x2="821" y2="15.7" stroke="#505050" stroke-width="1" stroke-dasharray="1,1"/>
<text x="821.8" y="19.8" font-size="6.5" font-weight="bold" fill="#404040">F</text>
<text x="846.7" y="15.7" font-size="11.5" font-weight="bold" fill="#686868" text-anchor="middle">A</text>
<rect x="869.7" y="5.3" width="11" height="12.2" fill="none" stroke="#505050" stroke-width="1" stroke-dasharray="1,1"/><text x="875.2" y="15.8" font-size="11.5" font-weight="bold" fill="#505050" text-anchor="middle">T</text>
<path d="M899.5 4.8 l3 2.8 l-3 2.4 l-3 -2.4 z M906.6 11.8 l3 2.6 l-3 3 l-3 -3 z" fill="#505050"/><path d="M898.5 11.5 l2 2 l3.6 -4.6" stroke="#505050" stroke-width="1.3" fill="none"/>
<text x="950" y="15.5" font-size="10.5" fill="#4a4a4a" text-anchor="middle">M1</text>
<text x="978.1" y="15.5" font-size="10.5" fill="#4a4a4a" text-anchor="middle">M5</text>
<text x="1006.5" y="15.5" font-size="10.5" fill="#4a4a4a" text-anchor="middle">M15</text>
<text x="1034.5" y="15.5" font-size="10.5" fill="#4a4a4a" text-anchor="middle">M30</text>
<text x="1062.5" y="15.5" font-size="10.5" fill="#4a4a4a" text-anchor="middle">H1</text>
<text x="1090" y="15.5" font-size="10.5" fill="#4a4a4a" text-anchor="middle">H4</text>
<text x="1118.5" y="15.5" font-size="10.5" fill="#4a4a4a" text-anchor="middle">D1</text>
<text x="1147.3" y="15.5" font-size="10.5" fill="#4a4a4a" text-anchor="middle">W1</text>
<text x="1174" y="15.5" font-size="10.5" fill="#4a4a4a" text-anchor="middle">MN</text>
<line x1="1656.4" y1="11.7" x2="1652.3" y2="15.6" stroke="#2060d0" stroke-width="2.6" stroke-linecap="round"/><circle cx="1659.7" cy="8.4" r="3.9" fill="#fafcff" stroke="#2868d8" stroke-width="1.4"/>
<path d="M1676.3 13.4 a4.6 3.6 0 1 1 4.2 3.6 l-1.2 2.2 l-0.6 -2.4 a4.6 3.6 0 0 1 -2.4 -3.4 z" fill="#e4e4ec" stroke="#b4b4b4" stroke-width="0.8"/>
<circle cx="1690.5" cy="8.2" r="8.1" fill="#e03418"/><text x="1690.3" y="13" font-size="12.5" font-weight="bold" fill="#fff" text-anchor="middle" style='font-family:"Liberation Serif",serif'>1</text>
</g>

</svg>
</body></html>
